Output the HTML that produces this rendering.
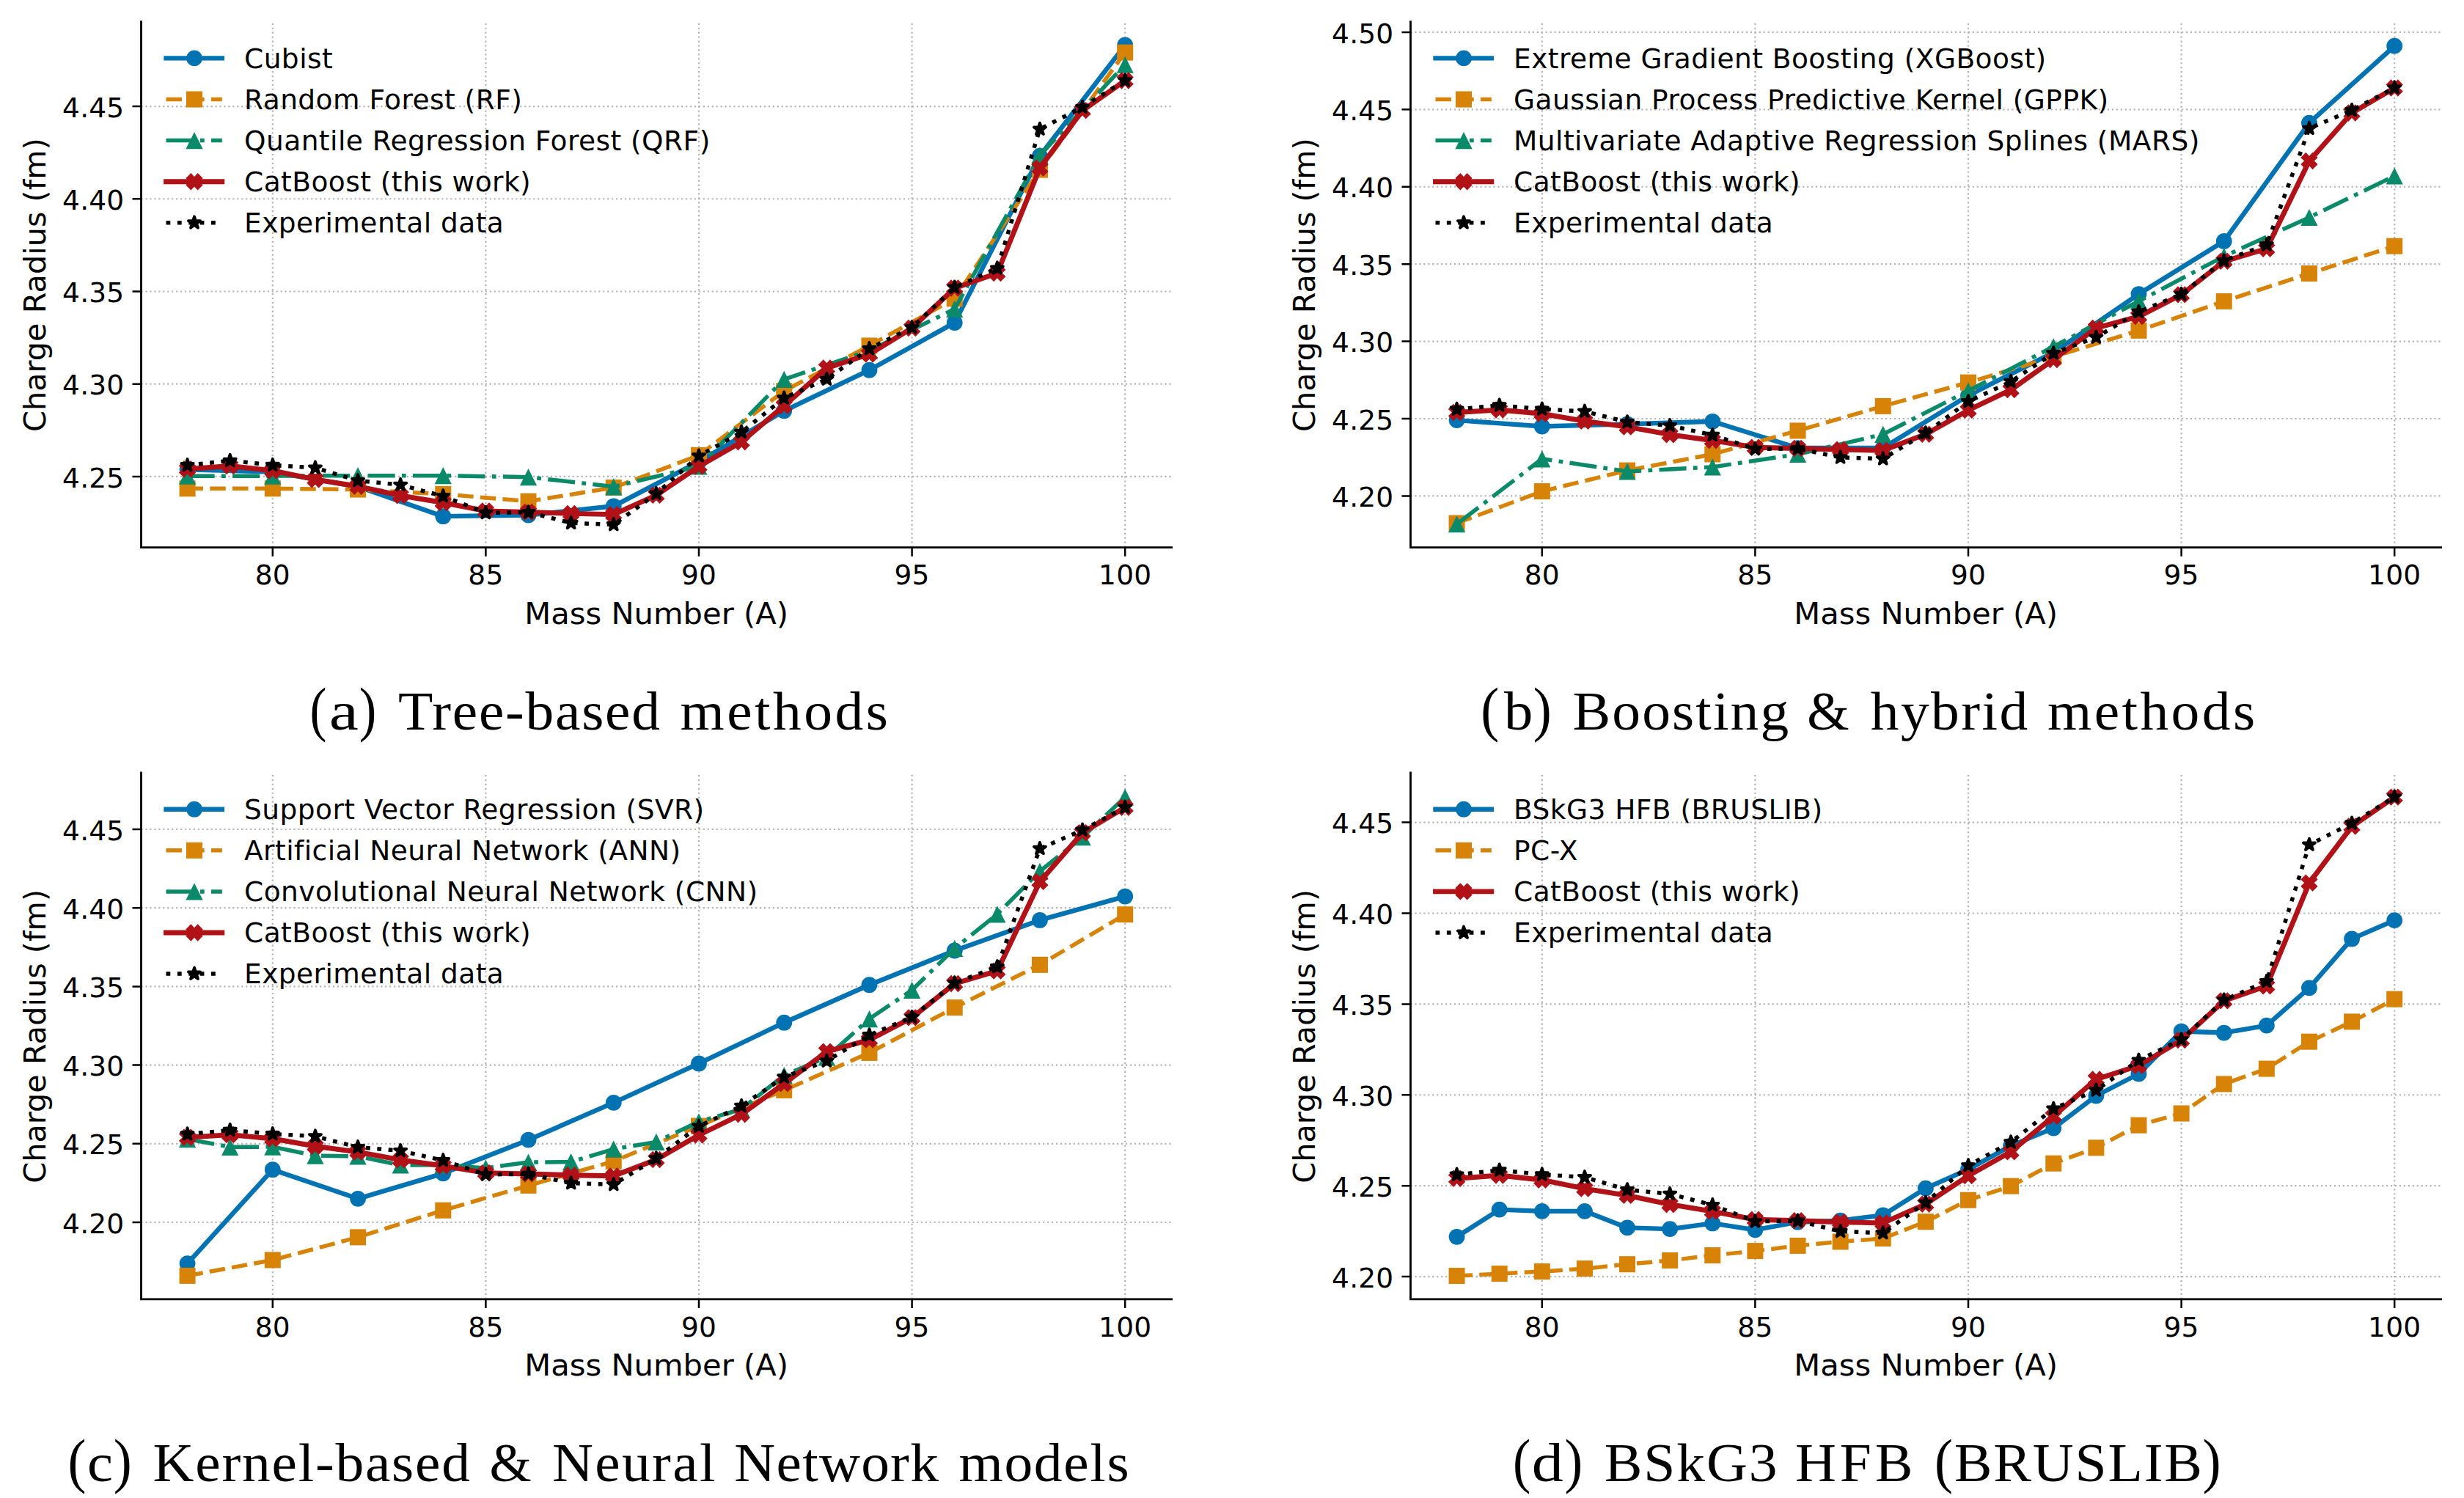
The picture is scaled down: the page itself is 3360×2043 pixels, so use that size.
<!DOCTYPE html>
<html lang="en">
<head>
<meta charset="utf-8">
<title>Charge radius model comparison</title>
<style>
html,body{margin:0;padding:0;background:#fff;}
body{width:3360px;height:2043px;overflow:hidden;}
svg{display:block;}
text{font-family:"DejaVu Sans","Liberation Sans",sans-serif;fill:#000;}
.tk text{font-size:37.5px;letter-spacing:0.2px;}
.lg{font-size:37.5px;letter-spacing:0.46px;}
.al{font-size:41.67px;}
.cap{font-family:"Liberation Serif","DejaVu Serif",serif;}
</style>
</head>
<body>
<svg width="3360" height="2043" viewBox="0 0 3360 2043">
<rect width="3360" height="2043" fill="#fff"/>
<g transform="translate(0 0)">
<g stroke="#b4b4b4" stroke-width="2.2" stroke-dasharray="2.2 3.74" fill="none"><path d="M371.8 746.7V29.6"/><path d="M662.4 746.7V29.6"/><path d="M953 746.7V29.6"/><path d="M1243.6 746.7V29.6"/><path d="M1534.2 746.7V29.6"/><path d="M192.5 649.9H1597.6"/><path d="M192.5 523.69H1597.6"/><path d="M192.5 397.48H1597.6"/><path d="M192.5 271.26H1597.6"/><path d="M192.5 145.05H1597.6"/></g>
<path d="M255.56 640.31L371.8 643.59L488.04 663.78L604.28 704.17L720.52 702.66L836.76 690.29L953 629.71L1069.24 560.29L1185.48 504.76L1301.72 440.13L1417.96 212.7L1534.2 61.5" fill="none" stroke="#0173B2" stroke-width="6.4" stroke-linejoin="round" stroke-linecap="square"/>
<g><circle cx="255.56" cy="640.31" r="10.9" fill="#0173B2"/><circle cx="371.8" cy="643.59" r="10.9" fill="#0173B2"/><circle cx="488.04" cy="663.78" r="10.9" fill="#0173B2"/><circle cx="604.28" cy="704.17" r="10.9" fill="#0173B2"/><circle cx="720.52" cy="702.66" r="10.9" fill="#0173B2"/><circle cx="836.76" cy="690.29" r="10.9" fill="#0173B2"/><circle cx="953" cy="629.71" r="10.9" fill="#0173B2"/><circle cx="1069.24" cy="560.29" r="10.9" fill="#0173B2"/><circle cx="1185.48" cy="504.76" r="10.9" fill="#0173B2"/><circle cx="1301.72" cy="440.13" r="10.9" fill="#0173B2"/><circle cx="1417.96" cy="212.7" r="10.9" fill="#0173B2"/><circle cx="1534.2" cy="61.5" r="10.9" fill="#0173B2"/></g>
<path d="M255.56 666.31L371.8 666.31L488.04 667.57L604.28 673.88L720.52 683.72L836.76 665.05L953 620.87L1069.24 533.28L1185.48 471.44L1301.72 407.32L1417.96 231.63L1534.2 71.59" fill="none" stroke="#D68307" stroke-width="5.5" stroke-linejoin="round" stroke-linecap="butt" stroke-dasharray="21.46 9.28"/>
<g><rect x="244.56" y="655.31" width="22" height="22" fill="#D68307"/><rect x="360.8" y="655.31" width="22" height="22" fill="#D68307"/><rect x="477.04" y="656.57" width="22" height="22" fill="#D68307"/><rect x="593.28" y="662.88" width="22" height="22" fill="#D68307"/><rect x="709.52" y="672.72" width="22" height="22" fill="#D68307"/><rect x="825.76" y="654.05" width="22" height="22" fill="#D68307"/><rect x="942" y="609.87" width="22" height="22" fill="#D68307"/><rect x="1058.24" y="522.28" width="22" height="22" fill="#D68307"/><rect x="1174.48" y="460.44" width="22" height="22" fill="#D68307"/><rect x="1290.72" y="396.32" width="22" height="22" fill="#D68307"/><rect x="1406.96" y="220.63" width="22" height="22" fill="#D68307"/><rect x="1523.2" y="60.59" width="22" height="22" fill="#D68307"/></g>
<path d="M255.56 649.14L371.8 649.14L488.04 648.64L604.28 648.64L720.52 650.66L836.76 663.78L953 636.02L1069.24 517.38L1185.48 478.25L1301.72 421.46L1417.96 211.94L1534.2 88.25" fill="none" stroke="#0B8A69" stroke-width="5.5" stroke-linejoin="round" stroke-linecap="butt" stroke-dasharray="37.12 9.28 5.8 9.28"/>
<g><path d="M255.56 637.54L267.16 660.74L243.96 660.74Z" fill="#0B8A69"/><path d="M371.8 637.54L383.4 660.74L360.2 660.74Z" fill="#0B8A69"/><path d="M488.04 637.04L499.64 660.24L476.44 660.24Z" fill="#0B8A69"/><path d="M604.28 637.04L615.88 660.24L592.68 660.24Z" fill="#0B8A69"/><path d="M720.52 639.06L732.12 662.26L708.92 662.26Z" fill="#0B8A69"/><path d="M836.76 652.18L848.36 675.38L825.16 675.38Z" fill="#0B8A69"/><path d="M953 624.42L964.6 647.62L941.4 647.62Z" fill="#0B8A69"/><path d="M1069.24 505.78L1080.84 528.98L1057.64 528.98Z" fill="#0B8A69"/><path d="M1185.48 466.65L1197.08 489.85L1173.88 489.85Z" fill="#0B8A69"/><path d="M1301.72 409.86L1313.32 433.06L1290.12 433.06Z" fill="#0B8A69"/><path d="M1417.96 200.34L1429.56 223.54L1406.36 223.54Z" fill="#0B8A69"/><path d="M1534.2 76.65L1545.8 99.85L1522.6 99.85Z" fill="#0B8A69"/></g>
<path d="M255.56 639.8L313.68 635.51L371.8 641.82L429.92 653.94L488.04 663.28L546.16 675.9L604.28 685.49L662.4 696.85L720.52 698.37L778.64 700.38L836.76 701.65L894.88 675.39L953 636.02L1011.12 602.7L1069.24 553.47L1127.36 501.98L1185.48 483.05L1243.6 447.46L1301.72 392.93L1359.84 372.48L1417.96 229.11L1476.08 150.6L1534.2 109.96" fill="none" stroke="#B01218" stroke-width="6.9" stroke-linejoin="round" stroke-linecap="square"/>
<g><path d="M250.96 628.1L255.56 633L260.16 628.1L267.26 635.2L262.36 639.8L267.26 644.4L260.16 651.5L255.56 646.6L250.96 651.5L243.86 644.4L248.76 639.8L243.86 635.2Z" fill="#B01218"/><path d="M309.08 623.81L313.68 628.71L318.28 623.81L325.38 630.91L320.48 635.51L325.38 640.11L318.28 647.21L313.68 642.31L309.08 647.21L301.98 640.11L306.88 635.51L301.98 630.91Z" fill="#B01218"/><path d="M367.2 630.12L371.8 635.02L376.4 630.12L383.5 637.22L378.6 641.82L383.5 646.42L376.4 653.52L371.8 648.62L367.2 653.52L360.1 646.42L365 641.82L360.1 637.22Z" fill="#B01218"/><path d="M425.32 642.24L429.92 647.14L434.52 642.24L441.62 649.34L436.72 653.94L441.62 658.54L434.52 665.64L429.92 660.74L425.32 665.64L418.22 658.54L423.12 653.94L418.22 649.34Z" fill="#B01218"/><path d="M483.44 651.58L488.04 656.48L492.64 651.58L499.74 658.68L494.84 663.28L499.74 667.88L492.64 674.98L488.04 670.08L483.44 674.98L476.34 667.88L481.24 663.28L476.34 658.68Z" fill="#B01218"/><path d="M541.56 664.2L546.16 669.1L550.76 664.2L557.86 671.3L552.96 675.9L557.86 680.5L550.76 687.6L546.16 682.7L541.56 687.6L534.46 680.5L539.36 675.9L534.46 671.3Z" fill="#B01218"/><path d="M599.68 673.79L604.28 678.69L608.88 673.79L615.98 680.89L611.08 685.49L615.98 690.09L608.88 697.19L604.28 692.29L599.68 697.19L592.58 690.09L597.48 685.49L592.58 680.89Z" fill="#B01218"/><path d="M657.8 685.15L662.4 690.05L667 685.15L674.1 692.25L669.2 696.85L674.1 701.45L667 708.55L662.4 703.65L657.8 708.55L650.7 701.45L655.6 696.85L650.7 692.25Z" fill="#B01218"/><path d="M715.92 686.67L720.52 691.57L725.12 686.67L732.22 693.77L727.32 698.37L732.22 702.97L725.12 710.07L720.52 705.17L715.92 710.07L708.82 702.97L713.72 698.37L708.82 693.77Z" fill="#B01218"/><path d="M774.04 688.68L778.64 693.58L783.24 688.68L790.34 695.78L785.44 700.38L790.34 704.98L783.24 712.08L778.64 707.18L774.04 712.08L766.94 704.98L771.84 700.38L766.94 695.78Z" fill="#B01218"/><path d="M832.16 689.95L836.76 694.85L841.36 689.95L848.46 697.05L843.56 701.65L848.46 706.25L841.36 713.35L836.76 708.45L832.16 713.35L825.06 706.25L829.96 701.65L825.06 697.05Z" fill="#B01218"/><path d="M890.28 663.69L894.88 668.59L899.48 663.69L906.58 670.79L901.68 675.39L906.58 679.99L899.48 687.09L894.88 682.19L890.28 687.09L883.18 679.99L888.08 675.39L883.18 670.79Z" fill="#B01218"/><path d="M948.4 624.32L953 629.22L957.6 624.32L964.7 631.42L959.8 636.02L964.7 640.62L957.6 647.72L953 642.82L948.4 647.72L941.3 640.62L946.2 636.02L941.3 631.42Z" fill="#B01218"/><path d="M1006.52 591L1011.12 595.9L1015.72 591L1022.82 598.1L1017.92 602.7L1022.82 607.3L1015.72 614.4L1011.12 609.5L1006.52 614.4L999.42 607.3L1004.32 602.7L999.42 598.1Z" fill="#B01218"/><path d="M1064.64 541.77L1069.24 546.67L1073.84 541.77L1080.94 548.87L1076.04 553.47L1080.94 558.07L1073.84 565.17L1069.24 560.27L1064.64 565.17L1057.54 558.07L1062.44 553.47L1057.54 548.87Z" fill="#B01218"/><path d="M1122.76 490.28L1127.36 495.18L1131.96 490.28L1139.06 497.38L1134.16 501.98L1139.06 506.58L1131.96 513.68L1127.36 508.78L1122.76 513.68L1115.66 506.58L1120.56 501.98L1115.66 497.38Z" fill="#B01218"/><path d="M1180.88 471.35L1185.48 476.25L1190.08 471.35L1197.18 478.45L1192.28 483.05L1197.18 487.65L1190.08 494.75L1185.48 489.85L1180.88 494.75L1173.78 487.65L1178.68 483.05L1173.78 478.45Z" fill="#B01218"/><path d="M1239 435.76L1243.6 440.66L1248.2 435.76L1255.3 442.86L1250.4 447.46L1255.3 452.06L1248.2 459.16L1243.6 454.26L1239 459.16L1231.9 452.06L1236.8 447.46L1231.9 442.86Z" fill="#B01218"/><path d="M1297.12 381.23L1301.72 386.13L1306.32 381.23L1313.42 388.33L1308.52 392.93L1313.42 397.53L1306.32 404.63L1301.72 399.73L1297.12 404.63L1290.02 397.53L1294.92 392.93L1290.02 388.33Z" fill="#B01218"/><path d="M1355.24 360.78L1359.84 365.68L1364.44 360.78L1371.54 367.88L1366.64 372.48L1371.54 377.08L1364.44 384.18L1359.84 379.28L1355.24 384.18L1348.14 377.08L1353.04 372.48L1348.14 367.88Z" fill="#B01218"/><path d="M1413.36 217.41L1417.96 222.31L1422.56 217.41L1429.66 224.51L1424.76 229.11L1429.66 233.71L1422.56 240.81L1417.96 235.91L1413.36 240.81L1406.26 233.71L1411.16 229.11L1406.26 224.51Z" fill="#B01218"/><path d="M1471.48 138.9L1476.08 143.8L1480.68 138.9L1487.78 146L1482.88 150.6L1487.78 155.2L1480.68 162.3L1476.08 157.4L1471.48 162.3L1464.38 155.2L1469.28 150.6L1464.38 146Z" fill="#B01218"/><path d="M1529.6 98.26L1534.2 103.16L1538.8 98.26L1545.9 105.36L1541 109.96L1545.9 114.56L1538.8 121.66L1534.2 116.76L1529.6 121.66L1522.5 114.56L1527.4 109.96L1522.5 105.36Z" fill="#B01218"/></g>
<path d="M255.56 634.5L313.68 628.19L371.8 634.25L429.92 638.04L488.04 655.45L546.16 661.26L604.28 676.66L662.4 699.38L720.52 698.62L778.64 713.26L836.76 715.53L894.88 673.38L953 621.88L1011.12 589.32L1069.24 542.87L1127.36 517.12L1185.48 475.47L1243.6 446.7L1301.72 391.92L1359.84 365.92L1417.96 176.1L1476.08 146.31L1534.2 109.71" fill="none" stroke="#000000" stroke-width="5.5" stroke-linejoin="round" stroke-linecap="butt" stroke-dasharray="5.8 9.57"/>
<g><path d="M255.56 626L257.47 631.88L263.64 631.88L258.65 635.51L260.56 641.38L255.56 637.75L250.56 641.38L252.47 635.51L247.48 631.88L253.65 631.88Z" fill="#000000" stroke="#000000" stroke-width="3.8" stroke-linejoin="round"/><path d="M313.68 619.69L315.59 625.56L321.76 625.56L316.77 629.19L318.68 635.07L313.68 631.44L308.68 635.07L310.59 629.19L305.6 625.56L311.77 625.56Z" fill="#000000" stroke="#000000" stroke-width="3.8" stroke-linejoin="round"/><path d="M371.8 625.75L373.71 631.62L379.88 631.62L374.89 635.25L376.8 641.13L371.8 637.5L366.8 641.13L368.71 635.25L363.72 631.62L369.89 631.62Z" fill="#000000" stroke="#000000" stroke-width="3.8" stroke-linejoin="round"/><path d="M429.92 629.54L431.83 635.41L438 635.41L433.01 639.04L434.92 644.91L429.92 641.28L424.92 644.91L426.83 639.04L421.84 635.41L428.01 635.41Z" fill="#000000" stroke="#000000" stroke-width="3.8" stroke-linejoin="round"/><path d="M488.04 646.95L489.95 652.83L496.12 652.83L491.13 656.46L493.04 662.33L488.04 658.7L483.04 662.33L484.95 656.46L479.96 652.83L486.13 652.83Z" fill="#000000" stroke="#000000" stroke-width="3.8" stroke-linejoin="round"/><path d="M546.16 652.76L548.07 658.63L554.24 658.63L549.25 662.26L551.16 668.14L546.16 664.51L541.16 668.14L543.07 662.26L538.08 658.63L544.25 658.63Z" fill="#000000" stroke="#000000" stroke-width="3.8" stroke-linejoin="round"/><path d="M604.28 668.16L606.19 674.03L612.36 674.03L607.37 677.66L609.28 683.53L604.28 679.9L599.28 683.53L601.19 677.66L596.2 674.03L602.37 674.03Z" fill="#000000" stroke="#000000" stroke-width="3.8" stroke-linejoin="round"/><path d="M662.4 690.88L664.31 696.75L670.48 696.75L665.49 700.38L667.4 706.25L662.4 702.62L657.4 706.25L659.31 700.38L654.32 696.75L660.49 696.75Z" fill="#000000" stroke="#000000" stroke-width="3.8" stroke-linejoin="round"/><path d="M720.52 690.12L722.43 695.99L728.6 695.99L723.61 699.62L725.52 705.49L720.52 701.86L715.52 705.49L717.43 699.62L712.44 695.99L718.61 695.99Z" fill="#000000" stroke="#000000" stroke-width="3.8" stroke-linejoin="round"/><path d="M778.64 704.76L780.55 710.63L786.72 710.63L781.73 714.26L783.64 720.14L778.64 716.51L773.64 720.14L775.55 714.26L770.56 710.63L776.73 710.63Z" fill="#000000" stroke="#000000" stroke-width="3.8" stroke-linejoin="round"/><path d="M836.76 707.03L838.67 712.9L844.84 712.9L839.85 716.53L841.76 722.41L836.76 718.78L831.76 722.41L833.67 716.53L828.68 712.9L834.85 712.9Z" fill="#000000" stroke="#000000" stroke-width="3.8" stroke-linejoin="round"/><path d="M894.88 664.88L896.79 670.75L902.96 670.75L897.97 674.38L899.88 680.25L894.88 676.62L889.88 680.25L891.79 674.38L886.8 670.75L892.97 670.75Z" fill="#000000" stroke="#000000" stroke-width="3.8" stroke-linejoin="round"/><path d="M953 613.38L954.91 619.25L961.08 619.25L956.09 622.88L958 628.76L953 625.13L948 628.76L949.91 622.88L944.92 619.25L951.09 619.25Z" fill="#000000" stroke="#000000" stroke-width="3.8" stroke-linejoin="round"/><path d="M1011.12 580.82L1013.03 586.69L1019.2 586.69L1014.21 590.32L1016.12 596.19L1011.12 592.56L1006.12 596.19L1008.03 590.32L1003.04 586.69L1009.21 586.69Z" fill="#000000" stroke="#000000" stroke-width="3.8" stroke-linejoin="round"/><path d="M1069.24 534.37L1071.15 540.25L1077.32 540.25L1072.33 543.88L1074.24 549.75L1069.24 546.12L1064.24 549.75L1066.15 543.88L1061.16 540.25L1067.33 540.25Z" fill="#000000" stroke="#000000" stroke-width="3.8" stroke-linejoin="round"/><path d="M1127.36 508.62L1129.27 514.5L1135.44 514.5L1130.45 518.13L1132.36 524L1127.36 520.37L1122.36 524L1124.27 518.13L1119.28 514.5L1125.45 514.5Z" fill="#000000" stroke="#000000" stroke-width="3.8" stroke-linejoin="round"/><path d="M1185.48 466.97L1187.39 472.85L1193.56 472.85L1188.57 476.48L1190.48 482.35L1185.48 478.72L1180.48 482.35L1182.39 476.48L1177.4 472.85L1183.57 472.85Z" fill="#000000" stroke="#000000" stroke-width="3.8" stroke-linejoin="round"/><path d="M1243.6 438.2L1245.51 444.07L1251.68 444.07L1246.69 447.7L1248.6 453.57L1243.6 449.94L1238.6 453.57L1240.51 447.7L1235.52 444.07L1241.69 444.07Z" fill="#000000" stroke="#000000" stroke-width="3.8" stroke-linejoin="round"/><path d="M1301.72 383.42L1303.63 389.3L1309.8 389.3L1304.81 392.92L1306.72 398.8L1301.72 395.17L1296.72 398.8L1298.63 392.92L1293.64 389.3L1299.81 389.3Z" fill="#000000" stroke="#000000" stroke-width="3.8" stroke-linejoin="round"/><path d="M1359.84 357.42L1361.75 363.3L1367.92 363.3L1362.93 366.93L1364.84 372.8L1359.84 369.17L1354.84 372.8L1356.75 366.93L1351.76 363.3L1357.93 363.3Z" fill="#000000" stroke="#000000" stroke-width="3.8" stroke-linejoin="round"/><path d="M1417.96 167.6L1419.87 173.47L1426.04 173.47L1421.05 177.1L1422.96 182.97L1417.96 179.34L1412.96 182.97L1414.87 177.1L1409.88 173.47L1416.05 173.47Z" fill="#000000" stroke="#000000" stroke-width="3.8" stroke-linejoin="round"/><path d="M1476.08 137.81L1477.99 143.69L1484.16 143.69L1479.17 147.32L1481.08 153.19L1476.08 149.56L1471.08 153.19L1472.99 147.32L1468 143.69L1474.17 143.69Z" fill="#000000" stroke="#000000" stroke-width="3.8" stroke-linejoin="round"/><path d="M1534.2 101.21L1536.11 107.08L1542.28 107.08L1537.29 110.71L1539.2 116.59L1534.2 112.96L1529.2 116.59L1531.11 110.71L1526.12 107.08L1532.29 107.08Z" fill="#000000" stroke="#000000" stroke-width="3.8" stroke-linejoin="round"/></g>
<g stroke="#000" fill="none"><path d="M192.5 28.2V746.7H1599" stroke-width="2.8" stroke-linecap="butt" stroke-linejoin="miter"/><path d="M371.8 746.7v12M662.4 746.7v12M953 746.7v12M1243.6 746.7v12M1534.2 746.7v12M192.5 649.9h-12M192.5 523.69h-12M192.5 397.48h-12M192.5 271.26h-12M192.5 145.05h-12" stroke-width="2.5"/></g>
<g class="tk"><text x="371.8" y="797.3" text-anchor="middle">80</text><text x="662.4" y="797.3" text-anchor="middle">85</text><text x="953" y="797.3" text-anchor="middle">90</text><text x="1243.6" y="797.3" text-anchor="middle">95</text><text x="1534.2" y="797.3" text-anchor="middle">100</text><text x="169.4" y="664.6" text-anchor="end">4.25</text><text x="169.4" y="538.39" text-anchor="end">4.30</text><text x="169.4" y="412.18" text-anchor="end">4.35</text><text x="169.4" y="285.96" text-anchor="end">4.40</text><text x="169.4" y="159.75" text-anchor="end">4.45</text></g>
<text class="al" x="895.2" y="850.5" text-anchor="middle">Mass Number (A)</text>
<text class="al" transform="translate(61.8 388.6) rotate(-90)" text-anchor="middle" style="font-size:41.4px">Charge Radius (fm)</text>
<g><path d="M226.5 79.4L302.8 79.4" fill="none" stroke="#0173B2" stroke-width="6.4" stroke-linecap="square"/><circle cx="265" cy="79.4" r="10.9" fill="#0173B2"/><text x="333" y="92.7" class="lg">Cubist</text><path d="M226.5 135.5L302.8 135.5" fill="none" stroke="#D68307" stroke-width="5.5" stroke-linecap="butt" stroke-dasharray="21.46 9.28"/><rect x="254" y="124.5" width="22" height="22" fill="#D68307"/><text x="333" y="148.8" class="lg">Random Forest (RF)</text><path d="M226.5 191.6L302.8 191.6" fill="none" stroke="#0B8A69" stroke-width="5.5" stroke-linecap="butt" stroke-dasharray="37.12 9.28 5.8 9.28"/><path d="M265 180L276.6 203.2L253.4 203.2Z" fill="#0B8A69"/><text x="333" y="204.9" class="lg">Quantile Regression Forest (QRF)</text><path d="M226.5 247.7L302.8 247.7" fill="none" stroke="#B01218" stroke-width="6.9" stroke-linecap="square"/><path d="M260.4 236L265 240.9L269.6 236L276.7 243.1L271.8 247.7L276.7 252.3L269.6 259.4L265 254.5L260.4 259.4L253.3 252.3L258.2 247.7L253.3 243.1Z" fill="#B01218"/><text x="333" y="261" class="lg">CatBoost (this work)</text><path d="M226.5 303.8L302.8 303.8" fill="none" stroke="#000000" stroke-width="5.5" stroke-linecap="butt" stroke-dasharray="5.8 9.57"/><path d="M265 295.3L266.91 301.17L273.08 301.17L268.09 304.8L270 310.68L265 307.05L260 310.68L261.91 304.8L256.92 301.17L263.09 301.17Z" fill="#000000" stroke="#000000" stroke-width="3.8" stroke-linejoin="round"/><text x="333" y="317.1" class="lg">Experimental data</text></g>
</g>
<text class="cap" transform="translate(0 994.5) scale(1.0400 1)"><tspan x="406.17" font-size="83.4" textLength="22.01" lengthAdjust="spacingAndGlyphs">(</tspan><tspan x="431.51" font-size="74.5" textLength="38.48" lengthAdjust="spacingAndGlyphs">a</tspan><tspan x="470.84" font-size="83.4" textLength="22.63" lengthAdjust="spacingAndGlyphs">)</tspan> <tspan x="522.12" font-size="74.5" letter-spacing="1.662">Tree-based</tspan> <tspan x="891.87" font-size="74.5" letter-spacing="3.321">methods</tspan></text>
<g transform="translate(1731 0)">
<g stroke="#b4b4b4" stroke-width="2.2" stroke-dasharray="2.2 3.74" fill="none"><path d="M371.8 746.7V29.6"/><path d="M662.4 746.7V29.6"/><path d="M953 746.7V29.6"/><path d="M1243.6 746.7V29.6"/><path d="M1534.2 746.7V29.6"/><path d="M192.5 676.4H1597.6"/><path d="M192.5 570.98H1597.6"/><path d="M192.5 465.57H1597.6"/><path d="M192.5 360.15H1597.6"/><path d="M192.5 254.73H1597.6"/><path d="M192.5 149.32H1597.6"/><path d="M192.5 43.9H1597.6"/></g>
<path d="M255.56 573.09L371.8 581.53L488.04 578.36L604.28 574.78L720.52 611.04L836.76 611.04L953 539.36L1069.24 480.75L1185.48 401.05L1301.72 328.95L1417.96 167.66L1534.2 62.66" fill="none" stroke="#0173B2" stroke-width="6.4" stroke-linejoin="round" stroke-linecap="square"/>
<g><circle cx="255.56" cy="573.09" r="10.9" fill="#0173B2"/><circle cx="371.8" cy="581.53" r="10.9" fill="#0173B2"/><circle cx="488.04" cy="578.36" r="10.9" fill="#0173B2"/><circle cx="604.28" cy="574.78" r="10.9" fill="#0173B2"/><circle cx="720.52" cy="611.04" r="10.9" fill="#0173B2"/><circle cx="836.76" cy="611.04" r="10.9" fill="#0173B2"/><circle cx="953" cy="539.36" r="10.9" fill="#0173B2"/><circle cx="1069.24" cy="480.75" r="10.9" fill="#0173B2"/><circle cx="1185.48" cy="401.05" r="10.9" fill="#0173B2"/><circle cx="1301.72" cy="328.95" r="10.9" fill="#0173B2"/><circle cx="1417.96" cy="167.66" r="10.9" fill="#0173B2"/><circle cx="1534.2" cy="62.66" r="10.9" fill="#0173B2"/></g>
<path d="M255.56 713.51L371.8 670.07L488.04 641.61L604.28 619.47L720.52 587.43L836.76 553.91L953 521.65L1069.24 486.65L1185.48 450.81L1301.72 410.96L1417.96 373.01L1534.2 335.69" fill="none" stroke="#D68307" stroke-width="5.5" stroke-linejoin="round" stroke-linecap="butt" stroke-dasharray="21.46 9.28"/>
<g><rect x="244.56" y="702.51" width="22" height="22" fill="#D68307"/><rect x="360.8" y="659.07" width="22" height="22" fill="#D68307"/><rect x="477.04" y="630.61" width="22" height="22" fill="#D68307"/><rect x="593.28" y="608.47" width="22" height="22" fill="#D68307"/><rect x="709.52" y="576.43" width="22" height="22" fill="#D68307"/><rect x="825.76" y="542.91" width="22" height="22" fill="#D68307"/><rect x="942" y="510.65" width="22" height="22" fill="#D68307"/><rect x="1058.24" y="475.65" width="22" height="22" fill="#D68307"/><rect x="1174.48" y="439.81" width="22" height="22" fill="#D68307"/><rect x="1290.72" y="399.96" width="22" height="22" fill="#D68307"/><rect x="1406.96" y="362.01" width="22" height="22" fill="#D68307"/><rect x="1523.2" y="324.69" width="22" height="22" fill="#D68307"/></g>
<path d="M255.56 714.77L371.8 625.8L488.04 642.88L604.28 636.97L720.52 619.47L836.76 592.28L953 533.03L1069.24 472.74L1185.48 410.75L1301.72 349.61L1417.96 296.48L1534.2 239.98" fill="none" stroke="#0B8A69" stroke-width="5.5" stroke-linejoin="round" stroke-linecap="butt" stroke-dasharray="37.12 9.28 5.8 9.28"/>
<g><path d="M255.56 703.17L267.16 726.37L243.96 726.37Z" fill="#0B8A69"/><path d="M371.8 614.2L383.4 637.4L360.2 637.4Z" fill="#0B8A69"/><path d="M488.04 631.28L499.64 654.48L476.44 654.48Z" fill="#0B8A69"/><path d="M604.28 625.37L615.88 648.57L592.68 648.57Z" fill="#0B8A69"/><path d="M720.52 607.87L732.12 631.07L708.92 631.07Z" fill="#0B8A69"/><path d="M836.76 580.68L848.36 603.88L825.16 603.88Z" fill="#0B8A69"/><path d="M953 521.43L964.6 544.63L941.4 544.63Z" fill="#0B8A69"/><path d="M1069.24 461.14L1080.84 484.34L1057.64 484.34Z" fill="#0B8A69"/><path d="M1185.48 399.15L1197.08 422.35L1173.88 422.35Z" fill="#0B8A69"/><path d="M1301.72 338.01L1313.32 361.21L1290.12 361.21Z" fill="#0B8A69"/><path d="M1417.96 284.88L1429.56 308.08L1406.36 308.08Z" fill="#0B8A69"/><path d="M1534.2 228.38L1545.8 251.58L1522.6 251.58Z" fill="#0B8A69"/></g>
<path d="M255.56 562.55L313.68 558.97L371.8 564.24L429.92 574.36L488.04 582.16L546.16 592.7L604.28 600.71L662.4 610.2L720.52 611.46L778.64 613.15L836.76 614.2L894.88 592.28L953 559.39L1011.12 531.56L1069.24 490.45L1127.36 447.43L1185.48 431.62L1243.6 401.9L1301.72 356.36L1359.84 339.28L1417.96 219.52L1476.08 153.96L1534.2 120.01" fill="none" stroke="#B01218" stroke-width="6.9" stroke-linejoin="round" stroke-linecap="square"/>
<g><path d="M250.96 550.85L255.56 555.75L260.16 550.85L267.26 557.95L262.36 562.55L267.26 567.15L260.16 574.25L255.56 569.35L250.96 574.25L243.86 567.15L248.76 562.55L243.86 557.95Z" fill="#B01218"/><path d="M309.08 547.27L313.68 552.17L318.28 547.27L325.38 554.37L320.48 558.97L325.38 563.57L318.28 570.67L313.68 565.77L309.08 570.67L301.98 563.57L306.88 558.97L301.98 554.37Z" fill="#B01218"/><path d="M367.2 552.54L371.8 557.44L376.4 552.54L383.5 559.64L378.6 564.24L383.5 568.84L376.4 575.94L371.8 571.04L367.2 575.94L360.1 568.84L365 564.24L360.1 559.64Z" fill="#B01218"/><path d="M425.32 562.66L429.92 567.56L434.52 562.66L441.62 569.76L436.72 574.36L441.62 578.96L434.52 586.06L429.92 581.16L425.32 586.06L418.22 578.96L423.12 574.36L418.22 569.76Z" fill="#B01218"/><path d="M483.44 570.46L488.04 575.36L492.64 570.46L499.74 577.56L494.84 582.16L499.74 586.76L492.64 593.86L488.04 588.96L483.44 593.86L476.34 586.76L481.24 582.16L476.34 577.56Z" fill="#B01218"/><path d="M541.56 581L546.16 585.9L550.76 581L557.86 588.1L552.96 592.7L557.86 597.3L550.76 604.4L546.16 599.5L541.56 604.4L534.46 597.3L539.36 592.7L534.46 588.1Z" fill="#B01218"/><path d="M599.68 589.01L604.28 593.91L608.88 589.01L615.98 596.11L611.08 600.71L615.98 605.31L608.88 612.41L604.28 607.51L599.68 612.41L592.58 605.31L597.48 600.71L592.58 596.11Z" fill="#B01218"/><path d="M657.8 598.5L662.4 603.4L667 598.5L674.1 605.6L669.2 610.2L674.1 614.8L667 621.9L662.4 617L657.8 621.9L650.7 614.8L655.6 610.2L650.7 605.6Z" fill="#B01218"/><path d="M715.92 599.76L720.52 604.66L725.12 599.76L732.22 606.86L727.32 611.46L732.22 616.06L725.12 623.16L720.52 618.26L715.92 623.16L708.82 616.06L713.72 611.46L708.82 606.86Z" fill="#B01218"/><path d="M774.04 601.45L778.64 606.35L783.24 601.45L790.34 608.55L785.44 613.15L790.34 617.75L783.24 624.85L778.64 619.95L774.04 624.85L766.94 617.75L771.84 613.15L766.94 608.55Z" fill="#B01218"/><path d="M832.16 602.5L836.76 607.4L841.36 602.5L848.46 609.6L843.56 614.2L848.46 618.8L841.36 625.9L836.76 621L832.16 625.9L825.06 618.8L829.96 614.2L825.06 609.6Z" fill="#B01218"/><path d="M890.28 580.58L894.88 585.48L899.48 580.58L906.58 587.68L901.68 592.28L906.58 596.88L899.48 603.98L894.88 599.08L890.28 603.98L883.18 596.88L888.08 592.28L883.18 587.68Z" fill="#B01218"/><path d="M948.4 547.69L953 552.59L957.6 547.69L964.7 554.79L959.8 559.39L964.7 563.99L957.6 571.09L953 566.19L948.4 571.09L941.3 563.99L946.2 559.39L941.3 554.79Z" fill="#B01218"/><path d="M1006.52 519.86L1011.12 524.76L1015.72 519.86L1022.82 526.96L1017.92 531.56L1022.82 536.16L1015.72 543.26L1011.12 538.36L1006.52 543.26L999.42 536.16L1004.32 531.56L999.42 526.96Z" fill="#B01218"/><path d="M1064.64 478.75L1069.24 483.65L1073.84 478.75L1080.94 485.85L1076.04 490.45L1080.94 495.05L1073.84 502.15L1069.24 497.25L1064.64 502.15L1057.54 495.05L1062.44 490.45L1057.54 485.85Z" fill="#B01218"/><path d="M1122.76 435.73L1127.36 440.63L1131.96 435.73L1139.06 442.83L1134.16 447.43L1139.06 452.03L1131.96 459.13L1127.36 454.23L1122.76 459.13L1115.66 452.03L1120.56 447.43L1115.66 442.83Z" fill="#B01218"/><path d="M1180.88 419.92L1185.48 424.82L1190.08 419.92L1197.18 427.02L1192.28 431.62L1197.18 436.22L1190.08 443.32L1185.48 438.42L1180.88 443.32L1173.78 436.22L1178.68 431.62L1173.78 427.02Z" fill="#B01218"/><path d="M1239 390.2L1243.6 395.1L1248.2 390.2L1255.3 397.3L1250.4 401.9L1255.3 406.5L1248.2 413.6L1243.6 408.7L1239 413.6L1231.9 406.5L1236.8 401.9L1231.9 397.3Z" fill="#B01218"/><path d="M1297.12 344.66L1301.72 349.56L1306.32 344.66L1313.42 351.76L1308.52 356.36L1313.42 360.96L1306.32 368.06L1301.72 363.16L1297.12 368.06L1290.02 360.96L1294.92 356.36L1290.02 351.76Z" fill="#B01218"/><path d="M1355.24 327.58L1359.84 332.48L1364.44 327.58L1371.54 334.68L1366.64 339.28L1371.54 343.88L1364.44 350.98L1359.84 346.08L1355.24 350.98L1348.14 343.88L1353.04 339.28L1348.14 334.68Z" fill="#B01218"/><path d="M1413.36 207.82L1417.96 212.72L1422.56 207.82L1429.66 214.92L1424.76 219.52L1429.66 224.12L1422.56 231.22L1417.96 226.32L1413.36 231.22L1406.26 224.12L1411.16 219.52L1406.26 214.92Z" fill="#B01218"/><path d="M1471.48 142.26L1476.08 147.16L1480.68 142.26L1487.78 149.36L1482.88 153.96L1487.78 158.56L1480.68 165.66L1476.08 160.76L1471.48 165.66L1464.38 158.56L1469.28 153.96L1464.38 149.36Z" fill="#B01218"/><path d="M1529.6 108.31L1534.2 113.21L1538.8 108.31L1545.9 115.41L1541 120.01L1545.9 124.61L1538.8 131.71L1534.2 126.81L1529.6 131.71L1522.5 124.61L1527.4 120.01L1522.5 115.41Z" fill="#B01218"/></g>
<path d="M255.56 558.12L313.68 552.85L371.8 557.91L429.92 561.07L488.04 575.62L546.16 580.47L604.28 593.33L662.4 612.31L720.52 611.67L778.64 623.9L836.76 625.8L894.88 590.59L953 547.58L1011.12 520.38L1069.24 481.59L1127.36 460.09L1185.48 425.3L1243.6 401.26L1301.72 355.51L1359.84 333.8L1417.96 175.25L1476.08 150.37L1534.2 119.8" fill="none" stroke="#000000" stroke-width="5.5" stroke-linejoin="round" stroke-linecap="butt" stroke-dasharray="5.8 9.57"/>
<g><path d="M255.56 549.62L257.47 555.5L263.64 555.5L258.65 559.13L260.56 565L255.56 561.37L250.56 565L252.47 559.13L247.48 555.5L253.65 555.5Z" fill="#000000" stroke="#000000" stroke-width="3.8" stroke-linejoin="round"/><path d="M313.68 544.35L315.59 550.23L321.76 550.23L316.77 553.85L318.68 559.73L313.68 556.1L308.68 559.73L310.59 553.85L305.6 550.23L311.77 550.23Z" fill="#000000" stroke="#000000" stroke-width="3.8" stroke-linejoin="round"/><path d="M371.8 549.41L373.71 555.29L379.88 555.29L374.89 558.91L376.8 564.79L371.8 561.16L366.8 564.79L368.71 558.91L363.72 555.29L369.89 555.29Z" fill="#000000" stroke="#000000" stroke-width="3.8" stroke-linejoin="round"/><path d="M429.92 552.57L431.83 558.45L438 558.45L433.01 562.08L434.92 567.95L429.92 564.32L424.92 567.95L426.83 562.08L421.84 558.45L428.01 558.45Z" fill="#000000" stroke="#000000" stroke-width="3.8" stroke-linejoin="round"/><path d="M488.04 567.12L489.95 573L496.12 573L491.13 576.62L493.04 582.5L488.04 578.87L483.04 582.5L484.95 576.62L479.96 573L486.13 573Z" fill="#000000" stroke="#000000" stroke-width="3.8" stroke-linejoin="round"/><path d="M546.16 571.97L548.07 577.84L554.24 577.84L549.25 581.47L551.16 587.35L546.16 583.72L541.16 587.35L543.07 581.47L538.08 577.84L544.25 577.84Z" fill="#000000" stroke="#000000" stroke-width="3.8" stroke-linejoin="round"/><path d="M604.28 584.83L606.19 590.71L612.36 590.71L607.37 594.33L609.28 600.21L604.28 596.58L599.28 600.21L601.19 594.33L596.2 590.71L602.37 590.71Z" fill="#000000" stroke="#000000" stroke-width="3.8" stroke-linejoin="round"/><path d="M662.4 603.81L664.31 609.68L670.48 609.68L665.49 613.31L667.4 619.18L662.4 615.55L657.4 619.18L659.31 613.31L654.32 609.68L660.49 609.68Z" fill="#000000" stroke="#000000" stroke-width="3.8" stroke-linejoin="round"/><path d="M720.52 603.17L722.43 609.05L728.6 609.05L723.61 612.68L725.52 618.55L720.52 614.92L715.52 618.55L717.43 612.68L712.44 609.05L718.61 609.05Z" fill="#000000" stroke="#000000" stroke-width="3.8" stroke-linejoin="round"/><path d="M778.64 615.4L780.55 621.28L786.72 621.28L781.73 624.91L783.64 630.78L778.64 627.15L773.64 630.78L775.55 624.91L770.56 621.28L776.73 621.28Z" fill="#000000" stroke="#000000" stroke-width="3.8" stroke-linejoin="round"/><path d="M836.76 617.3L838.67 623.17L844.84 623.17L839.85 626.8L841.76 632.68L836.76 629.05L831.76 632.68L833.67 626.8L828.68 623.17L834.85 623.17Z" fill="#000000" stroke="#000000" stroke-width="3.8" stroke-linejoin="round"/><path d="M894.88 582.09L896.79 587.96L902.96 587.96L897.97 591.59L899.88 597.47L894.88 593.84L889.88 597.47L891.79 591.59L886.8 587.96L892.97 587.96Z" fill="#000000" stroke="#000000" stroke-width="3.8" stroke-linejoin="round"/><path d="M953 539.08L954.91 544.95L961.08 544.95L956.09 548.58L958 554.46L953 550.83L948 554.46L949.91 548.58L944.92 544.95L951.09 544.95Z" fill="#000000" stroke="#000000" stroke-width="3.8" stroke-linejoin="round"/><path d="M1011.12 511.88L1013.03 517.76L1019.2 517.76L1014.21 521.39L1016.12 527.26L1011.12 523.63L1006.12 527.26L1008.03 521.39L1003.04 517.76L1009.21 517.76Z" fill="#000000" stroke="#000000" stroke-width="3.8" stroke-linejoin="round"/><path d="M1069.24 473.09L1071.15 478.96L1077.32 478.96L1072.33 482.59L1074.24 488.47L1069.24 484.84L1064.24 488.47L1066.15 482.59L1061.16 478.96L1067.33 478.96Z" fill="#000000" stroke="#000000" stroke-width="3.8" stroke-linejoin="round"/><path d="M1127.36 451.59L1129.27 457.46L1135.44 457.46L1130.45 461.09L1132.36 466.96L1127.36 463.33L1122.36 466.96L1124.27 461.09L1119.28 457.46L1125.45 457.46Z" fill="#000000" stroke="#000000" stroke-width="3.8" stroke-linejoin="round"/><path d="M1185.48 416.8L1187.39 422.67L1193.56 422.67L1188.57 426.3L1190.48 432.17L1185.48 428.54L1180.48 432.17L1182.39 426.3L1177.4 422.67L1183.57 422.67Z" fill="#000000" stroke="#000000" stroke-width="3.8" stroke-linejoin="round"/><path d="M1243.6 392.76L1245.51 398.64L1251.68 398.64L1246.69 402.27L1248.6 408.14L1243.6 404.51L1238.6 408.14L1240.51 402.27L1235.52 398.64L1241.69 398.64Z" fill="#000000" stroke="#000000" stroke-width="3.8" stroke-linejoin="round"/><path d="M1301.72 347.01L1303.63 352.89L1309.8 352.89L1304.81 356.51L1306.72 362.39L1301.72 358.76L1296.72 362.39L1298.63 356.51L1293.64 352.89L1299.81 352.89Z" fill="#000000" stroke="#000000" stroke-width="3.8" stroke-linejoin="round"/><path d="M1359.84 325.3L1361.75 331.17L1367.92 331.17L1362.93 334.8L1364.84 340.67L1359.84 337.04L1354.84 340.67L1356.75 334.8L1351.76 331.17L1357.93 331.17Z" fill="#000000" stroke="#000000" stroke-width="3.8" stroke-linejoin="round"/><path d="M1417.96 166.75L1419.87 172.62L1426.04 172.62L1421.05 176.25L1422.96 182.13L1417.96 178.5L1412.96 182.13L1414.87 176.25L1409.88 172.62L1416.05 172.62Z" fill="#000000" stroke="#000000" stroke-width="3.8" stroke-linejoin="round"/><path d="M1476.08 141.87L1477.99 147.74L1484.16 147.74L1479.17 151.37L1481.08 157.25L1476.08 153.62L1471.08 157.25L1472.99 151.37L1468 147.74L1474.17 147.74Z" fill="#000000" stroke="#000000" stroke-width="3.8" stroke-linejoin="round"/><path d="M1534.2 111.3L1536.11 117.17L1542.28 117.17L1537.29 120.8L1539.2 126.68L1534.2 123.05L1529.2 126.68L1531.11 120.8L1526.12 117.17L1532.29 117.17Z" fill="#000000" stroke="#000000" stroke-width="3.8" stroke-linejoin="round"/></g>
<g stroke="#000" fill="none"><path d="M192.5 28.2V746.7H1599" stroke-width="2.8" stroke-linecap="butt" stroke-linejoin="miter"/><path d="M371.8 746.7v12M662.4 746.7v12M953 746.7v12M1243.6 746.7v12M1534.2 746.7v12M192.5 676.4h-12M192.5 570.98h-12M192.5 465.57h-12M192.5 360.15h-12M192.5 254.73h-12M192.5 149.32h-12M192.5 43.9h-12" stroke-width="2.5"/></g>
<g class="tk"><text x="371.8" y="797.3" text-anchor="middle">80</text><text x="662.4" y="797.3" text-anchor="middle">85</text><text x="953" y="797.3" text-anchor="middle">90</text><text x="1243.6" y="797.3" text-anchor="middle">95</text><text x="1534.2" y="797.3" text-anchor="middle">100</text><text x="169.4" y="691.1" text-anchor="end">4.20</text><text x="169.4" y="585.68" text-anchor="end">4.25</text><text x="169.4" y="480.27" text-anchor="end">4.30</text><text x="169.4" y="374.85" text-anchor="end">4.35</text><text x="169.4" y="269.43" text-anchor="end">4.40</text><text x="169.4" y="164.02" text-anchor="end">4.45</text><text x="169.4" y="58.6" text-anchor="end">4.50</text></g>
<text class="al" x="895.2" y="850.5" text-anchor="middle">Mass Number (A)</text>
<text class="al" transform="translate(61.8 388.6) rotate(-90)" text-anchor="middle" style="font-size:41.4px">Charge Radius (fm)</text>
<g><path d="M226.5 79.4L302.8 79.4" fill="none" stroke="#0173B2" stroke-width="6.4" stroke-linecap="square"/><circle cx="265" cy="79.4" r="10.9" fill="#0173B2"/><text x="333" y="92.7" class="lg">Extreme Gradient Boosting (XGBoost)</text><path d="M226.5 135.5L302.8 135.5" fill="none" stroke="#D68307" stroke-width="5.5" stroke-linecap="butt" stroke-dasharray="21.46 9.28"/><rect x="254" y="124.5" width="22" height="22" fill="#D68307"/><text x="333" y="148.8" class="lg">Gaussian Process Predictive Kernel (GPPK)</text><path d="M226.5 191.6L302.8 191.6" fill="none" stroke="#0B8A69" stroke-width="5.5" stroke-linecap="butt" stroke-dasharray="37.12 9.28 5.8 9.28"/><path d="M265 180L276.6 203.2L253.4 203.2Z" fill="#0B8A69"/><text x="333" y="204.9" class="lg">Multivariate Adaptive Regression Splines (MARS)</text><path d="M226.5 247.7L302.8 247.7" fill="none" stroke="#B01218" stroke-width="6.9" stroke-linecap="square"/><path d="M260.4 236L265 240.9L269.6 236L276.7 243.1L271.8 247.7L276.7 252.3L269.6 259.4L265 254.5L260.4 259.4L253.3 252.3L258.2 247.7L253.3 243.1Z" fill="#B01218"/><text x="333" y="261" class="lg">CatBoost (this work)</text><path d="M226.5 303.8L302.8 303.8" fill="none" stroke="#000000" stroke-width="5.5" stroke-linecap="butt" stroke-dasharray="5.8 9.57"/><path d="M265 295.3L266.91 301.17L273.08 301.17L268.09 304.8L270 310.68L265 307.05L260 310.68L261.91 304.8L256.92 301.17L263.09 301.17Z" fill="#000000" stroke="#000000" stroke-width="3.8" stroke-linejoin="round"/><text x="333" y="317.1" class="lg">Experimental data</text></g>
</g>
<text class="cap" transform="translate(0 994.5) scale(1.0400 1)"><tspan x="1941.67" font-size="83.4" textLength="24" lengthAdjust="spacingAndGlyphs">(</tspan><tspan x="1972.21" font-size="74.5" textLength="37.79" lengthAdjust="spacingAndGlyphs">b</tspan><tspan x="2010.32" font-size="83.4" textLength="24" lengthAdjust="spacingAndGlyphs">)</tspan> <tspan x="2062.04" font-size="74.5" letter-spacing="2.030">Boosting</tspan> <tspan x="2369.5" font-size="74.5" textLength="55.2" lengthAdjust="spacingAndGlyphs">&amp;</tspan> <tspan x="2452.71" font-size="74.5" letter-spacing="2.315">hybrid</tspan> <tspan x="2684.65" font-size="74.5" letter-spacing="3.288">methods</tspan></text>
<g transform="translate(0 1024.3)">
<g stroke="#b4b4b4" stroke-width="2.2" stroke-dasharray="2.2 3.74" fill="none"><path d="M371.8 747.6V29.6"/><path d="M662.4 747.6V29.6"/><path d="M953 747.6V29.6"/><path d="M1243.6 747.6V29.6"/><path d="M1534.2 747.6V29.6"/><path d="M192.5 642.7H1597.6"/><path d="M192.5 535.5H1597.6"/><path d="M192.5 428.3H1597.6"/><path d="M192.5 321.1H1597.6"/><path d="M192.5 213.9H1597.6"/><path d="M192.5 106.7H1597.6"/></g>
<path d="M255.56 698.87L371.8 570.88L488.04 610.54L604.28 576.02L720.52 530.35L836.76 479.54L953 426.16L1069.24 370.41L1185.48 318.96L1301.72 272.22L1417.96 230.62L1534.2 198.25" fill="none" stroke="#0173B2" stroke-width="6.4" stroke-linejoin="round" stroke-linecap="square"/>
<g><circle cx="255.56" cy="698.87" r="10.9" fill="#0173B2"/><circle cx="371.8" cy="570.88" r="10.9" fill="#0173B2"/><circle cx="488.04" cy="610.54" r="10.9" fill="#0173B2"/><circle cx="604.28" cy="576.02" r="10.9" fill="#0173B2"/><circle cx="720.52" cy="530.35" r="10.9" fill="#0173B2"/><circle cx="836.76" cy="479.54" r="10.9" fill="#0173B2"/><circle cx="953" cy="426.16" r="10.9" fill="#0173B2"/><circle cx="1069.24" cy="370.41" r="10.9" fill="#0173B2"/><circle cx="1185.48" cy="318.96" r="10.9" fill="#0173B2"/><circle cx="1301.72" cy="272.22" r="10.9" fill="#0173B2"/><circle cx="1417.96" cy="230.62" r="10.9" fill="#0173B2"/><circle cx="1534.2" cy="198.25" r="10.9" fill="#0173B2"/></g>
<path d="M255.56 715.6L371.8 694.16L488.04 663.07L604.28 626.41L720.52 592.53L836.76 559.51L953 511.27L1069.24 462.6L1185.48 411.58L1301.72 349.83L1417.96 291.51L1534.2 222.9" fill="none" stroke="#D68307" stroke-width="5.5" stroke-linejoin="round" stroke-linecap="butt" stroke-dasharray="21.46 9.28"/>
<g><rect x="244.56" y="704.6" width="22" height="22" fill="#D68307"/><rect x="360.8" y="683.16" width="22" height="22" fill="#D68307"/><rect x="477.04" y="652.07" width="22" height="22" fill="#D68307"/><rect x="593.28" y="615.41" width="22" height="22" fill="#D68307"/><rect x="709.52" y="581.53" width="22" height="22" fill="#D68307"/><rect x="825.76" y="548.51" width="22" height="22" fill="#D68307"/><rect x="942" y="500.27" width="22" height="22" fill="#D68307"/><rect x="1058.24" y="451.6" width="22" height="22" fill="#D68307"/><rect x="1174.48" y="400.58" width="22" height="22" fill="#D68307"/><rect x="1290.72" y="338.83" width="22" height="22" fill="#D68307"/><rect x="1406.96" y="280.51" width="22" height="22" fill="#D68307"/><rect x="1523.2" y="211.9" width="22" height="22" fill="#D68307"/></g>
<path d="M255.56 529.28L313.68 540L371.8 539.79L429.92 551.79L488.04 552.65L546.16 564.66L604.28 564.44L662.4 568.73L720.52 560.8L778.64 560.37L836.76 542.79L894.88 533.14L953 505.48L1011.12 488.33L1069.24 442.24L1127.36 417.58L1185.48 365.27L1243.6 326.03L1301.72 269.22L1359.84 222.48L1417.96 163.94L1476.08 117.42L1534.2 62.96" fill="none" stroke="#0B8A69" stroke-width="5.5" stroke-linejoin="round" stroke-linecap="butt" stroke-dasharray="37.12 9.28 5.8 9.28"/>
<g><path d="M255.56 517.68L267.16 540.88L243.96 540.88Z" fill="#0B8A69"/><path d="M313.68 528.4L325.28 551.6L302.08 551.6Z" fill="#0B8A69"/><path d="M371.8 528.19L383.4 551.39L360.2 551.39Z" fill="#0B8A69"/><path d="M429.92 540.19L441.52 563.39L418.32 563.39Z" fill="#0B8A69"/><path d="M488.04 541.05L499.64 564.25L476.44 564.25Z" fill="#0B8A69"/><path d="M546.16 553.06L557.76 576.26L534.56 576.26Z" fill="#0B8A69"/><path d="M604.28 552.84L615.88 576.04L592.68 576.04Z" fill="#0B8A69"/><path d="M662.4 557.13L674 580.33L650.8 580.33Z" fill="#0B8A69"/><path d="M720.52 549.2L732.12 572.4L708.92 572.4Z" fill="#0B8A69"/><path d="M778.64 548.77L790.24 571.97L767.04 571.97Z" fill="#0B8A69"/><path d="M836.76 531.19L848.36 554.39L825.16 554.39Z" fill="#0B8A69"/><path d="M894.88 521.54L906.48 544.74L883.28 544.74Z" fill="#0B8A69"/><path d="M953 493.88L964.6 517.08L941.4 517.08Z" fill="#0B8A69"/><path d="M1011.12 476.73L1022.72 499.93L999.52 499.93Z" fill="#0B8A69"/><path d="M1069.24 430.64L1080.84 453.84L1057.64 453.84Z" fill="#0B8A69"/><path d="M1127.36 405.98L1138.96 429.18L1115.76 429.18Z" fill="#0B8A69"/><path d="M1185.48 353.67L1197.08 376.87L1173.88 376.87Z" fill="#0B8A69"/><path d="M1243.6 314.43L1255.2 337.63L1232 337.63Z" fill="#0B8A69"/><path d="M1301.72 257.62L1313.32 280.82L1290.12 280.82Z" fill="#0B8A69"/><path d="M1359.84 210.88L1371.44 234.08L1348.24 234.08Z" fill="#0B8A69"/><path d="M1417.96 152.34L1429.56 175.54L1406.36 175.54Z" fill="#0B8A69"/><path d="M1476.08 105.82L1487.68 129.02L1464.48 129.02Z" fill="#0B8A69"/><path d="M1534.2 51.36L1545.8 74.56L1522.6 74.56Z" fill="#0B8A69"/></g>
<path d="M255.56 526.92L313.68 523.28L371.8 528.64L429.92 538.93L488.04 546.86L546.16 557.58L604.28 565.73L662.4 575.38L720.52 576.66L778.64 578.38L836.76 579.45L894.88 557.15L953 523.71L1011.12 495.41L1069.24 453.6L1127.36 409.86L1185.48 393.78L1243.6 363.55L1301.72 317.24L1359.84 299.87L1417.96 178.1L1476.08 111.42L1534.2 76.9" fill="none" stroke="#B01218" stroke-width="6.9" stroke-linejoin="round" stroke-linecap="square"/>
<g><path d="M250.96 515.22L255.56 520.12L260.16 515.22L267.26 522.32L262.36 526.92L267.26 531.52L260.16 538.62L255.56 533.72L250.96 538.62L243.86 531.52L248.76 526.92L243.86 522.32Z" fill="#B01218"/><path d="M309.08 511.58L313.68 516.48L318.28 511.58L325.38 518.68L320.48 523.28L325.38 527.88L318.28 534.98L313.68 530.08L309.08 534.98L301.98 527.88L306.88 523.28L301.98 518.68Z" fill="#B01218"/><path d="M367.2 516.94L371.8 521.84L376.4 516.94L383.5 524.04L378.6 528.64L383.5 533.24L376.4 540.34L371.8 535.44L367.2 540.34L360.1 533.24L365 528.64L360.1 524.04Z" fill="#B01218"/><path d="M425.32 527.23L429.92 532.13L434.52 527.23L441.62 534.33L436.72 538.93L441.62 543.53L434.52 550.63L429.92 545.73L425.32 550.63L418.22 543.53L423.12 538.93L418.22 534.33Z" fill="#B01218"/><path d="M483.44 535.16L488.04 540.06L492.64 535.16L499.74 542.26L494.84 546.86L499.74 551.46L492.64 558.56L488.04 553.66L483.44 558.56L476.34 551.46L481.24 546.86L476.34 542.26Z" fill="#B01218"/><path d="M541.56 545.88L546.16 550.78L550.76 545.88L557.86 552.98L552.96 557.58L557.86 562.18L550.76 569.28L546.16 564.38L541.56 569.28L534.46 562.18L539.36 557.58L534.46 552.98Z" fill="#B01218"/><path d="M599.68 554.03L604.28 558.93L608.88 554.03L615.98 561.13L611.08 565.73L615.98 570.33L608.88 577.43L604.28 572.53L599.68 577.43L592.58 570.33L597.48 565.73L592.58 561.13Z" fill="#B01218"/><path d="M657.8 563.68L662.4 568.58L667 563.68L674.1 570.78L669.2 575.38L674.1 579.98L667 587.08L662.4 582.18L657.8 587.08L650.7 579.98L655.6 575.38L650.7 570.78Z" fill="#B01218"/><path d="M715.92 564.96L720.52 569.86L725.12 564.96L732.22 572.06L727.32 576.66L732.22 581.26L725.12 588.36L720.52 583.46L715.92 588.36L708.82 581.26L713.72 576.66L708.82 572.06Z" fill="#B01218"/><path d="M774.04 566.68L778.64 571.58L783.24 566.68L790.34 573.78L785.44 578.38L790.34 582.98L783.24 590.08L778.64 585.18L774.04 590.08L766.94 582.98L771.84 578.38L766.94 573.78Z" fill="#B01218"/><path d="M832.16 567.75L836.76 572.65L841.36 567.75L848.46 574.85L843.56 579.45L848.46 584.05L841.36 591.15L836.76 586.25L832.16 591.15L825.06 584.05L829.96 579.45L825.06 574.85Z" fill="#B01218"/><path d="M890.28 545.45L894.88 550.35L899.48 545.45L906.58 552.55L901.68 557.15L906.58 561.75L899.48 568.85L894.88 563.95L890.28 568.85L883.18 561.75L888.08 557.15L883.18 552.55Z" fill="#B01218"/><path d="M948.4 512.01L953 516.91L957.6 512.01L964.7 519.11L959.8 523.71L964.7 528.31L957.6 535.41L953 530.51L948.4 535.41L941.3 528.31L946.2 523.71L941.3 519.11Z" fill="#B01218"/><path d="M1006.52 483.71L1011.12 488.61L1015.72 483.71L1022.82 490.81L1017.92 495.41L1022.82 500.01L1015.72 507.11L1011.12 502.21L1006.52 507.11L999.42 500.01L1004.32 495.41L999.42 490.81Z" fill="#B01218"/><path d="M1064.64 441.9L1069.24 446.8L1073.84 441.9L1080.94 449L1076.04 453.6L1080.94 458.2L1073.84 465.3L1069.24 460.4L1064.64 465.3L1057.54 458.2L1062.44 453.6L1057.54 449Z" fill="#B01218"/><path d="M1122.76 398.16L1127.36 403.06L1131.96 398.16L1139.06 405.26L1134.16 409.86L1139.06 414.46L1131.96 421.56L1127.36 416.66L1122.76 421.56L1115.66 414.46L1120.56 409.86L1115.66 405.26Z" fill="#B01218"/><path d="M1180.88 382.08L1185.48 386.98L1190.08 382.08L1197.18 389.18L1192.28 393.78L1197.18 398.38L1190.08 405.48L1185.48 400.58L1180.88 405.48L1173.78 398.38L1178.68 393.78L1173.78 389.18Z" fill="#B01218"/><path d="M1239 351.85L1243.6 356.75L1248.2 351.85L1255.3 358.95L1250.4 363.55L1255.3 368.15L1248.2 375.25L1243.6 370.35L1239 375.25L1231.9 368.15L1236.8 363.55L1231.9 358.95Z" fill="#B01218"/><path d="M1297.12 305.54L1301.72 310.44L1306.32 305.54L1313.42 312.64L1308.52 317.24L1313.42 321.84L1306.32 328.94L1301.72 324.04L1297.12 328.94L1290.02 321.84L1294.92 317.24L1290.02 312.64Z" fill="#B01218"/><path d="M1355.24 288.17L1359.84 293.07L1364.44 288.17L1371.54 295.27L1366.64 299.87L1371.54 304.47L1364.44 311.57L1359.84 306.67L1355.24 311.57L1348.14 304.47L1353.04 299.87L1348.14 295.27Z" fill="#B01218"/><path d="M1413.36 166.4L1417.96 171.3L1422.56 166.4L1429.66 173.5L1424.76 178.1L1429.66 182.7L1422.56 189.8L1417.96 184.9L1413.36 189.8L1406.26 182.7L1411.16 178.1L1406.26 173.5Z" fill="#B01218"/><path d="M1471.48 99.72L1476.08 104.62L1480.68 99.72L1487.78 106.82L1482.88 111.42L1487.78 116.02L1480.68 123.12L1476.08 118.22L1471.48 123.12L1464.38 116.02L1469.28 111.42L1464.38 106.82Z" fill="#B01218"/><path d="M1529.6 65.2L1534.2 70.1L1538.8 65.2L1545.9 72.3L1541 76.9L1545.9 81.5L1538.8 88.6L1534.2 83.7L1529.6 88.6L1522.5 81.5L1527.4 76.9L1522.5 72.3Z" fill="#B01218"/></g>
<path d="M255.56 522.42L313.68 517.06L371.8 522.21L429.92 525.42L488.04 540.22L546.16 545.15L604.28 558.23L662.4 577.52L720.52 576.88L778.64 589.31L836.76 591.24L894.88 555.44L953 511.7L1011.12 484.04L1069.24 444.59L1127.36 422.73L1185.48 387.35L1243.6 362.91L1301.72 316.38L1359.84 294.3L1417.96 133.07L1476.08 107.77L1534.2 76.68" fill="none" stroke="#000000" stroke-width="5.5" stroke-linejoin="round" stroke-linecap="butt" stroke-dasharray="5.8 9.57"/>
<g><path d="M255.56 513.92L257.47 519.79L263.64 519.79L258.65 523.42L260.56 529.3L255.56 525.67L250.56 529.3L252.47 523.42L247.48 519.79L253.65 519.79Z" fill="#000000" stroke="#000000" stroke-width="3.8" stroke-linejoin="round"/><path d="M313.68 508.56L315.59 514.43L321.76 514.43L316.77 518.06L318.68 523.94L313.68 520.31L308.68 523.94L310.59 518.06L305.6 514.43L311.77 514.43Z" fill="#000000" stroke="#000000" stroke-width="3.8" stroke-linejoin="round"/><path d="M371.8 513.71L373.71 519.58L379.88 519.58L374.89 523.21L376.8 529.08L371.8 525.45L366.8 529.08L368.71 523.21L363.72 519.58L369.89 519.58Z" fill="#000000" stroke="#000000" stroke-width="3.8" stroke-linejoin="round"/><path d="M429.92 516.92L431.83 522.8L438 522.8L433.01 526.43L434.92 532.3L429.92 528.67L424.92 532.3L426.83 526.43L421.84 522.8L428.01 522.8Z" fill="#000000" stroke="#000000" stroke-width="3.8" stroke-linejoin="round"/><path d="M488.04 531.72L489.95 537.59L496.12 537.59L491.13 541.22L493.04 547.09L488.04 543.46L483.04 547.09L484.95 541.22L479.96 537.59L486.13 537.59Z" fill="#000000" stroke="#000000" stroke-width="3.8" stroke-linejoin="round"/><path d="M546.16 536.65L548.07 542.52L554.24 542.52L549.25 546.15L551.16 552.02L546.16 548.39L541.16 552.02L543.07 546.15L538.08 542.52L544.25 542.52Z" fill="#000000" stroke="#000000" stroke-width="3.8" stroke-linejoin="round"/><path d="M604.28 549.73L606.19 555.6L612.36 555.6L607.37 559.23L609.28 565.1L604.28 561.47L599.28 565.1L601.19 559.23L596.2 555.6L602.37 555.6Z" fill="#000000" stroke="#000000" stroke-width="3.8" stroke-linejoin="round"/><path d="M662.4 569.02L664.31 574.9L670.48 574.9L665.49 578.53L667.4 584.4L662.4 580.77L657.4 584.4L659.31 578.53L654.32 574.9L660.49 574.9Z" fill="#000000" stroke="#000000" stroke-width="3.8" stroke-linejoin="round"/><path d="M720.52 568.38L722.43 574.25L728.6 574.25L723.61 577.88L725.52 583.76L720.52 580.13L715.52 583.76L717.43 577.88L712.44 574.25L718.61 574.25Z" fill="#000000" stroke="#000000" stroke-width="3.8" stroke-linejoin="round"/><path d="M778.64 580.81L780.55 586.69L786.72 586.69L781.73 590.32L783.64 596.19L778.64 592.56L773.64 596.19L775.55 590.32L770.56 586.69L776.73 586.69Z" fill="#000000" stroke="#000000" stroke-width="3.8" stroke-linejoin="round"/><path d="M836.76 582.74L838.67 588.62L844.84 588.62L839.85 592.25L841.76 598.12L836.76 594.49L831.76 598.12L833.67 592.25L828.68 588.62L834.85 588.62Z" fill="#000000" stroke="#000000" stroke-width="3.8" stroke-linejoin="round"/><path d="M894.88 546.94L896.79 552.81L902.96 552.81L897.97 556.44L899.88 562.32L894.88 558.69L889.88 562.32L891.79 556.44L886.8 552.81L892.97 552.81Z" fill="#000000" stroke="#000000" stroke-width="3.8" stroke-linejoin="round"/><path d="M953 503.2L954.91 509.07L961.08 509.07L956.09 512.7L958 518.58L953 514.95L948 518.58L949.91 512.7L944.92 509.07L951.09 509.07Z" fill="#000000" stroke="#000000" stroke-width="3.8" stroke-linejoin="round"/><path d="M1011.12 475.54L1013.03 481.42L1019.2 481.42L1014.21 485.05L1016.12 490.92L1011.12 487.29L1006.12 490.92L1008.03 485.05L1003.04 481.42L1009.21 481.42Z" fill="#000000" stroke="#000000" stroke-width="3.8" stroke-linejoin="round"/><path d="M1069.24 436.09L1071.15 441.97L1077.32 441.97L1072.33 445.6L1074.24 451.47L1069.24 447.84L1064.24 451.47L1066.15 445.6L1061.16 441.97L1067.33 441.97Z" fill="#000000" stroke="#000000" stroke-width="3.8" stroke-linejoin="round"/><path d="M1127.36 414.23L1129.27 420.1L1135.44 420.1L1130.45 423.73L1132.36 429.6L1127.36 425.97L1122.36 429.6L1124.27 423.73L1119.28 420.1L1125.45 420.1Z" fill="#000000" stroke="#000000" stroke-width="3.8" stroke-linejoin="round"/><path d="M1185.48 378.85L1187.39 384.72L1193.56 384.72L1188.57 388.35L1190.48 394.23L1185.48 390.6L1180.48 394.23L1182.39 388.35L1177.4 384.72L1183.57 384.72Z" fill="#000000" stroke="#000000" stroke-width="3.8" stroke-linejoin="round"/><path d="M1243.6 354.41L1245.51 360.28L1251.68 360.28L1246.69 363.91L1248.6 369.78L1243.6 366.15L1238.6 369.78L1240.51 363.91L1235.52 360.28L1241.69 360.28Z" fill="#000000" stroke="#000000" stroke-width="3.8" stroke-linejoin="round"/><path d="M1301.72 307.88L1303.63 313.76L1309.8 313.76L1304.81 317.39L1306.72 323.26L1301.72 319.63L1296.72 323.26L1298.63 317.39L1293.64 313.76L1299.81 313.76Z" fill="#000000" stroke="#000000" stroke-width="3.8" stroke-linejoin="round"/><path d="M1359.84 285.8L1361.75 291.67L1367.92 291.67L1362.93 295.3L1364.84 301.18L1359.84 297.55L1354.84 301.18L1356.75 295.3L1351.76 291.67L1357.93 291.67Z" fill="#000000" stroke="#000000" stroke-width="3.8" stroke-linejoin="round"/><path d="M1417.96 124.57L1419.87 130.44L1426.04 130.44L1421.05 134.07L1422.96 139.95L1417.96 136.32L1412.96 139.95L1414.87 134.07L1409.88 130.44L1416.05 130.44Z" fill="#000000" stroke="#000000" stroke-width="3.8" stroke-linejoin="round"/><path d="M1476.08 99.27L1477.99 105.15L1484.16 105.15L1479.17 108.78L1481.08 114.65L1476.08 111.02L1471.08 114.65L1472.99 108.78L1468 105.15L1474.17 105.15Z" fill="#000000" stroke="#000000" stroke-width="3.8" stroke-linejoin="round"/><path d="M1534.2 68.18L1536.11 74.06L1542.28 74.06L1537.29 77.69L1539.2 83.56L1534.2 79.93L1529.2 83.56L1531.11 77.69L1526.12 74.06L1532.29 74.06Z" fill="#000000" stroke="#000000" stroke-width="3.8" stroke-linejoin="round"/></g>
<g stroke="#000" fill="none"><path d="M192.5 28.2V747.6H1599" stroke-width="2.8" stroke-linecap="butt" stroke-linejoin="miter"/><path d="M371.8 747.6v12M662.4 747.6v12M953 747.6v12M1243.6 747.6v12M1534.2 747.6v12M192.5 642.7h-12M192.5 535.5h-12M192.5 428.3h-12M192.5 321.1h-12M192.5 213.9h-12M192.5 106.7h-12" stroke-width="2.5"/></g>
<g class="tk"><text x="371.8" y="798.83" text-anchor="middle">80</text><text x="662.4" y="798.83" text-anchor="middle">85</text><text x="953" y="798.83" text-anchor="middle">90</text><text x="1243.6" y="798.83" text-anchor="middle">95</text><text x="1534.2" y="798.83" text-anchor="middle">100</text><text x="169.4" y="657.4" text-anchor="end">4.20</text><text x="169.4" y="550.2" text-anchor="end">4.25</text><text x="169.4" y="443" text-anchor="end">4.30</text><text x="169.4" y="335.8" text-anchor="end">4.35</text><text x="169.4" y="228.6" text-anchor="end">4.40</text><text x="169.4" y="121.4" text-anchor="end">4.45</text></g>
<text class="al" x="895.2" y="852.03" text-anchor="middle">Mass Number (A)</text>
<text class="al" transform="translate(61.8 389.05) rotate(-90)" text-anchor="middle" style="font-size:41.4px">Charge Radius (fm)</text>
<g><path d="M226.5 79.4L302.8 79.4" fill="none" stroke="#0173B2" stroke-width="6.4" stroke-linecap="square"/><circle cx="265" cy="79.4" r="10.9" fill="#0173B2"/><text x="333" y="92.7" class="lg">Support Vector Regression (SVR)</text><path d="M226.5 135.5L302.8 135.5" fill="none" stroke="#D68307" stroke-width="5.5" stroke-linecap="butt" stroke-dasharray="21.46 9.28"/><rect x="254" y="124.5" width="22" height="22" fill="#D68307"/><text x="333" y="148.8" class="lg">Artificial Neural Network (ANN)</text><path d="M226.5 191.6L302.8 191.6" fill="none" stroke="#0B8A69" stroke-width="5.5" stroke-linecap="butt" stroke-dasharray="37.12 9.28 5.8 9.28"/><path d="M265 180L276.6 203.2L253.4 203.2Z" fill="#0B8A69"/><text x="333" y="204.9" class="lg">Convolutional Neural Network (CNN)</text><path d="M226.5 247.7L302.8 247.7" fill="none" stroke="#B01218" stroke-width="6.9" stroke-linecap="square"/><path d="M260.4 236L265 240.9L269.6 236L276.7 243.1L271.8 247.7L276.7 252.3L269.6 259.4L265 254.5L260.4 259.4L253.3 252.3L258.2 247.7L253.3 243.1Z" fill="#B01218"/><text x="333" y="261" class="lg">CatBoost (this work)</text><path d="M226.5 303.8L302.8 303.8" fill="none" stroke="#000000" stroke-width="5.5" stroke-linecap="butt" stroke-dasharray="5.8 9.57"/><path d="M265 295.3L266.91 301.17L273.08 301.17L268.09 304.8L270 310.68L265 307.05L260 310.68L261.91 304.8L256.92 301.17L263.09 301.17Z" fill="#000000" stroke="#000000" stroke-width="3.8" stroke-linejoin="round"/><text x="333" y="317.1" class="lg">Experimental data</text></g>
</g>
<text class="cap" transform="translate(0 2019.7) scale(1.0400 1)"><tspan x="88.97" font-size="83.4" textLength="24" lengthAdjust="spacingAndGlyphs">(</tspan><tspan x="114.51" font-size="74.5" textLength="33.61" lengthAdjust="spacingAndGlyphs">c</tspan><tspan x="148.88" font-size="83.4" textLength="24" lengthAdjust="spacingAndGlyphs">)</tspan> <tspan x="200.6" font-size="74.5" letter-spacing="1.685">Kernel-based</tspan> <tspan x="641.81" font-size="74.5" textLength="55.1" lengthAdjust="spacingAndGlyphs">&amp;</tspan> <tspan x="723.96" font-size="74.5" letter-spacing="2.285">Neural</tspan> <tspan x="962.81" font-size="74.5" letter-spacing="1.202">Network</tspan> <tspan x="1257.25" font-size="74.5" letter-spacing="1.588">models</tspan></text>
<g transform="translate(1731 1024.3)">
<g stroke="#b4b4b4" stroke-width="2.2" stroke-dasharray="2.2 3.74" fill="none"><path d="M371.8 747.6V29.6"/><path d="M662.4 747.6V29.6"/><path d="M953 747.6V29.6"/><path d="M1243.6 747.6V29.6"/><path d="M1534.2 747.6V29.6"/><path d="M192.5 716.75H1597.6"/><path d="M192.5 592.86H1597.6"/><path d="M192.5 468.97H1597.6"/><path d="M192.5 345.08H1597.6"/><path d="M192.5 221.19H1597.6"/><path d="M192.5 97.3H1597.6"/></g>
<path d="M255.56 662.49L313.68 625.32L371.8 627.55L429.92 627.55L488.04 650.1L546.16 651.83L604.28 644.15L662.4 653.07L720.52 642.42L778.64 640.43L836.76 633L894.88 596.33L953 570.56L1011.12 538.35L1069.24 514.31L1127.36 470.21L1185.48 440.23L1243.6 382.25L1301.72 384.23L1359.84 374.32L1417.96 323.03L1476.08 256.13L1534.2 230.85" fill="none" stroke="#0173B2" stroke-width="6.4" stroke-linejoin="round" stroke-linecap="square"/>
<g><circle cx="255.56" cy="662.49" r="10.9" fill="#0173B2"/><circle cx="313.68" cy="625.32" r="10.9" fill="#0173B2"/><circle cx="371.8" cy="627.55" r="10.9" fill="#0173B2"/><circle cx="429.92" cy="627.55" r="10.9" fill="#0173B2"/><circle cx="488.04" cy="650.1" r="10.9" fill="#0173B2"/><circle cx="546.16" cy="651.83" r="10.9" fill="#0173B2"/><circle cx="604.28" cy="644.15" r="10.9" fill="#0173B2"/><circle cx="662.4" cy="653.07" r="10.9" fill="#0173B2"/><circle cx="720.52" cy="642.42" r="10.9" fill="#0173B2"/><circle cx="778.64" cy="640.43" r="10.9" fill="#0173B2"/><circle cx="836.76" cy="633" r="10.9" fill="#0173B2"/><circle cx="894.88" cy="596.33" r="10.9" fill="#0173B2"/><circle cx="953" cy="570.56" r="10.9" fill="#0173B2"/><circle cx="1011.12" cy="538.35" r="10.9" fill="#0173B2"/><circle cx="1069.24" cy="514.31" r="10.9" fill="#0173B2"/><circle cx="1127.36" cy="470.21" r="10.9" fill="#0173B2"/><circle cx="1185.48" cy="440.23" r="10.9" fill="#0173B2"/><circle cx="1243.6" cy="382.25" r="10.9" fill="#0173B2"/><circle cx="1301.72" cy="384.23" r="10.9" fill="#0173B2"/><circle cx="1359.84" cy="374.32" r="10.9" fill="#0173B2"/><circle cx="1417.96" cy="323.03" r="10.9" fill="#0173B2"/><circle cx="1476.08" cy="256.13" r="10.9" fill="#0173B2"/><circle cx="1534.2" cy="230.85" r="10.9" fill="#0173B2"/></g>
<path d="M255.56 715.76L313.68 712.79L371.8 709.81L429.92 705.85L488.04 699.9L546.16 694.7L604.28 687.76L662.4 681.81L720.52 674.63L778.64 669.18L836.76 664.72L894.88 641.92L953 612.43L1011.12 593.36L1069.24 562.38L1127.36 541.07L1185.48 510.35L1243.6 494.24L1301.72 454.1L1359.84 433.29L1417.96 396.37L1476.08 369.11L1534.2 338.39" fill="none" stroke="#D68307" stroke-width="5.5" stroke-linejoin="round" stroke-linecap="butt" stroke-dasharray="21.46 9.28"/>
<g><rect x="244.56" y="704.76" width="22" height="22" fill="#D68307"/><rect x="302.68" y="701.79" width="22" height="22" fill="#D68307"/><rect x="360.8" y="698.81" width="22" height="22" fill="#D68307"/><rect x="418.92" y="694.85" width="22" height="22" fill="#D68307"/><rect x="477.04" y="688.9" width="22" height="22" fill="#D68307"/><rect x="535.16" y="683.7" width="22" height="22" fill="#D68307"/><rect x="593.28" y="676.76" width="22" height="22" fill="#D68307"/><rect x="651.4" y="670.81" width="22" height="22" fill="#D68307"/><rect x="709.52" y="663.63" width="22" height="22" fill="#D68307"/><rect x="767.64" y="658.18" width="22" height="22" fill="#D68307"/><rect x="825.76" y="653.72" width="22" height="22" fill="#D68307"/><rect x="883.88" y="630.92" width="22" height="22" fill="#D68307"/><rect x="942" y="601.43" width="22" height="22" fill="#D68307"/><rect x="1000.12" y="582.36" width="22" height="22" fill="#D68307"/><rect x="1058.24" y="551.38" width="22" height="22" fill="#D68307"/><rect x="1116.36" y="530.07" width="22" height="22" fill="#D68307"/><rect x="1174.48" y="499.35" width="22" height="22" fill="#D68307"/><rect x="1232.6" y="483.24" width="22" height="22" fill="#D68307"/><rect x="1290.72" y="443.1" width="22" height="22" fill="#D68307"/><rect x="1348.84" y="422.29" width="22" height="22" fill="#D68307"/><rect x="1406.96" y="385.37" width="22" height="22" fill="#D68307"/><rect x="1465.08" y="358.11" width="22" height="22" fill="#D68307"/><rect x="1523.2" y="327.39" width="22" height="22" fill="#D68307"/></g>
<path d="M255.56 582.95L313.68 578.74L371.8 584.93L429.92 596.82L488.04 605.99L546.16 618.38L604.28 627.8L662.4 638.95L720.52 640.43L778.64 642.42L836.76 643.65L894.88 617.89L953 579.23L1011.12 546.53L1069.24 498.21L1127.36 447.66L1185.48 429.08L1243.6 394.14L1301.72 340.62L1359.84 320.55L1417.96 179.81L1476.08 102.75L1534.2 62.86" fill="none" stroke="#B01218" stroke-width="6.9" stroke-linejoin="round" stroke-linecap="square"/>
<g><path d="M250.96 571.25L255.56 576.15L260.16 571.25L267.26 578.35L262.36 582.95L267.26 587.55L260.16 594.65L255.56 589.75L250.96 594.65L243.86 587.55L248.76 582.95L243.86 578.35Z" fill="#B01218"/><path d="M309.08 567.04L313.68 571.94L318.28 567.04L325.38 574.14L320.48 578.74L325.38 583.34L318.28 590.44L313.68 585.54L309.08 590.44L301.98 583.34L306.88 578.74L301.98 574.14Z" fill="#B01218"/><path d="M367.2 573.23L371.8 578.13L376.4 573.23L383.5 580.33L378.6 584.93L383.5 589.53L376.4 596.63L371.8 591.73L367.2 596.63L360.1 589.53L365 584.93L360.1 580.33Z" fill="#B01218"/><path d="M425.32 585.12L429.92 590.02L434.52 585.12L441.62 592.22L436.72 596.82L441.62 601.42L434.52 608.52L429.92 603.62L425.32 608.52L418.22 601.42L423.12 596.82L418.22 592.22Z" fill="#B01218"/><path d="M483.44 594.29L488.04 599.19L492.64 594.29L499.74 601.39L494.84 605.99L499.74 610.59L492.64 617.69L488.04 612.79L483.44 617.69L476.34 610.59L481.24 605.99L476.34 601.39Z" fill="#B01218"/><path d="M541.56 606.68L546.16 611.58L550.76 606.68L557.86 613.78L552.96 618.38L557.86 622.98L550.76 630.08L546.16 625.18L541.56 630.08L534.46 622.98L539.36 618.38L534.46 613.78Z" fill="#B01218"/><path d="M599.68 616.1L604.28 621L608.88 616.1L615.98 623.2L611.08 627.8L615.98 632.4L608.88 639.5L604.28 634.6L599.68 639.5L592.58 632.4L597.48 627.8L592.58 623.2Z" fill="#B01218"/><path d="M657.8 627.25L662.4 632.15L667 627.25L674.1 634.35L669.2 638.95L674.1 643.55L667 650.65L662.4 645.75L657.8 650.65L650.7 643.55L655.6 638.95L650.7 634.35Z" fill="#B01218"/><path d="M715.92 628.73L720.52 633.63L725.12 628.73L732.22 635.83L727.32 640.43L732.22 645.03L725.12 652.13L720.52 647.23L715.92 652.13L708.82 645.03L713.72 640.43L708.82 635.83Z" fill="#B01218"/><path d="M774.04 630.72L778.64 635.62L783.24 630.72L790.34 637.82L785.44 642.42L790.34 647.02L783.24 654.12L778.64 649.22L774.04 654.12L766.94 647.02L771.84 642.42L766.94 637.82Z" fill="#B01218"/><path d="M832.16 631.95L836.76 636.85L841.36 631.95L848.46 639.05L843.56 643.65L848.46 648.25L841.36 655.35L836.76 650.45L832.16 655.35L825.06 648.25L829.96 643.65L825.06 639.05Z" fill="#B01218"/><path d="M890.28 606.19L894.88 611.09L899.48 606.19L906.58 613.29L901.68 617.89L906.58 622.49L899.48 629.59L894.88 624.69L890.28 629.59L883.18 622.49L888.08 617.89L883.18 613.29Z" fill="#B01218"/><path d="M948.4 567.53L953 572.43L957.6 567.53L964.7 574.63L959.8 579.23L964.7 583.83L957.6 590.93L953 586.03L948.4 590.93L941.3 583.83L946.2 579.23L941.3 574.63Z" fill="#B01218"/><path d="M1006.52 534.83L1011.12 539.73L1015.72 534.83L1022.82 541.93L1017.92 546.53L1022.82 551.13L1015.72 558.23L1011.12 553.33L1006.52 558.23L999.42 551.13L1004.32 546.53L999.42 541.93Z" fill="#B01218"/><path d="M1064.64 486.51L1069.24 491.41L1073.84 486.51L1080.94 493.61L1076.04 498.21L1080.94 502.81L1073.84 509.91L1069.24 505.01L1064.64 509.91L1057.54 502.81L1062.44 498.21L1057.54 493.61Z" fill="#B01218"/><path d="M1122.76 435.96L1127.36 440.86L1131.96 435.96L1139.06 443.06L1134.16 447.66L1139.06 452.26L1131.96 459.36L1127.36 454.46L1122.76 459.36L1115.66 452.26L1120.56 447.66L1115.66 443.06Z" fill="#B01218"/><path d="M1180.88 417.38L1185.48 422.28L1190.08 417.38L1197.18 424.48L1192.28 429.08L1197.18 433.68L1190.08 440.78L1185.48 435.88L1180.88 440.78L1173.78 433.68L1178.68 429.08L1173.78 424.48Z" fill="#B01218"/><path d="M1239 382.44L1243.6 387.34L1248.2 382.44L1255.3 389.54L1250.4 394.14L1255.3 398.74L1248.2 405.84L1243.6 400.94L1239 405.84L1231.9 398.74L1236.8 394.14L1231.9 389.54Z" fill="#B01218"/><path d="M1297.12 328.92L1301.72 333.82L1306.32 328.92L1313.42 336.02L1308.52 340.62L1313.42 345.22L1306.32 352.32L1301.72 347.42L1297.12 352.32L1290.02 345.22L1294.92 340.62L1290.02 336.02Z" fill="#B01218"/><path d="M1355.24 308.85L1359.84 313.75L1364.44 308.85L1371.54 315.95L1366.64 320.55L1371.54 325.15L1364.44 332.25L1359.84 327.35L1355.24 332.25L1348.14 325.15L1353.04 320.55L1348.14 315.95Z" fill="#B01218"/><path d="M1413.36 168.11L1417.96 173.01L1422.56 168.11L1429.66 175.21L1424.76 179.81L1429.66 184.41L1422.56 191.51L1417.96 186.61L1413.36 191.51L1406.26 184.41L1411.16 179.81L1406.26 175.21Z" fill="#B01218"/><path d="M1471.48 91.05L1476.08 95.95L1480.68 91.05L1487.78 98.15L1482.88 102.75L1487.78 107.35L1480.68 114.45L1476.08 109.55L1471.48 114.45L1464.38 107.35L1469.28 102.75L1464.38 98.15Z" fill="#B01218"/><path d="M1529.6 51.16L1534.2 56.06L1538.8 51.16L1545.9 58.26L1541 62.86L1545.9 67.46L1538.8 74.56L1534.2 69.66L1529.6 74.56L1522.5 67.46L1527.4 62.86L1522.5 58.26Z" fill="#B01218"/></g>
<path d="M255.56 577.75L313.68 571.55L371.8 577.5L429.92 581.21L488.04 598.31L546.16 604.01L604.28 619.12L662.4 641.42L720.52 640.68L778.64 655.05L836.76 657.28L894.88 615.9L953 565.36L1011.12 533.39L1069.24 487.8L1127.36 462.53L1185.48 421.64L1243.6 393.4L1301.72 339.63L1359.84 314.11L1417.96 127.78L1476.08 98.54L1534.2 62.61" fill="none" stroke="#000000" stroke-width="5.5" stroke-linejoin="round" stroke-linecap="butt" stroke-dasharray="5.8 9.57"/>
<g><path d="M255.56 569.25L257.47 575.12L263.64 575.12L258.65 578.75L260.56 584.62L255.56 580.99L250.56 584.62L252.47 578.75L247.48 575.12L253.65 575.12Z" fill="#000000" stroke="#000000" stroke-width="3.8" stroke-linejoin="round"/><path d="M313.68 563.05L315.59 568.92L321.76 568.92L316.77 572.55L318.68 578.43L313.68 574.8L308.68 578.43L310.59 572.55L305.6 568.92L311.77 568.92Z" fill="#000000" stroke="#000000" stroke-width="3.8" stroke-linejoin="round"/><path d="M371.8 569L373.71 574.87L379.88 574.87L374.89 578.5L376.8 584.37L371.8 580.74L366.8 584.37L368.71 578.5L363.72 574.87L369.89 574.87Z" fill="#000000" stroke="#000000" stroke-width="3.8" stroke-linejoin="round"/><path d="M429.92 572.71L431.83 578.59L438 578.59L433.01 582.22L434.92 588.09L429.92 584.46L424.92 588.09L426.83 582.22L421.84 578.59L428.01 578.59Z" fill="#000000" stroke="#000000" stroke-width="3.8" stroke-linejoin="round"/><path d="M488.04 589.81L489.95 595.68L496.12 595.68L491.13 599.31L493.04 605.19L488.04 601.56L483.04 605.19L484.95 599.31L479.96 595.68L486.13 595.68Z" fill="#000000" stroke="#000000" stroke-width="3.8" stroke-linejoin="round"/><path d="M546.16 595.51L548.07 601.38L554.24 601.38L549.25 605.01L551.16 610.89L546.16 607.26L541.16 610.89L543.07 605.01L538.08 601.38L544.25 601.38Z" fill="#000000" stroke="#000000" stroke-width="3.8" stroke-linejoin="round"/><path d="M604.28 610.62L606.19 616.5L612.36 616.5L607.37 620.13L609.28 626L604.28 622.37L599.28 626L601.19 620.13L596.2 616.5L602.37 616.5Z" fill="#000000" stroke="#000000" stroke-width="3.8" stroke-linejoin="round"/><path d="M662.4 632.92L664.31 638.8L670.48 638.8L665.49 642.43L667.4 648.3L662.4 644.67L657.4 648.3L659.31 642.43L654.32 638.8L660.49 638.8Z" fill="#000000" stroke="#000000" stroke-width="3.8" stroke-linejoin="round"/><path d="M720.52 632.18L722.43 638.05L728.6 638.05L723.61 641.68L725.52 647.56L720.52 643.93L715.52 647.56L717.43 641.68L712.44 638.05L718.61 638.05Z" fill="#000000" stroke="#000000" stroke-width="3.8" stroke-linejoin="round"/><path d="M778.64 646.55L780.55 652.43L786.72 652.43L781.73 656.06L783.64 661.93L778.64 658.3L773.64 661.93L775.55 656.06L770.56 652.43L776.73 652.43Z" fill="#000000" stroke="#000000" stroke-width="3.8" stroke-linejoin="round"/><path d="M836.76 648.78L838.67 654.66L844.84 654.66L839.85 658.29L841.76 664.16L836.76 660.53L831.76 664.16L833.67 658.29L828.68 654.66L834.85 654.66Z" fill="#000000" stroke="#000000" stroke-width="3.8" stroke-linejoin="round"/><path d="M894.88 607.4L896.79 613.28L902.96 613.28L897.97 616.91L899.88 622.78L894.88 619.15L889.88 622.78L891.79 616.91L886.8 613.28L892.97 613.28Z" fill="#000000" stroke="#000000" stroke-width="3.8" stroke-linejoin="round"/><path d="M953 556.86L954.91 562.73L961.08 562.73L956.09 566.36L958 572.23L953 568.6L948 572.23L949.91 566.36L944.92 562.73L951.09 562.73Z" fill="#000000" stroke="#000000" stroke-width="3.8" stroke-linejoin="round"/><path d="M1011.12 524.89L1013.03 530.77L1019.2 530.77L1014.21 534.4L1016.12 540.27L1011.12 536.64L1006.12 540.27L1008.03 534.4L1003.04 530.77L1009.21 530.77Z" fill="#000000" stroke="#000000" stroke-width="3.8" stroke-linejoin="round"/><path d="M1069.24 479.3L1071.15 485.17L1077.32 485.17L1072.33 488.8L1074.24 494.68L1069.24 491.05L1064.24 494.68L1066.15 488.8L1061.16 485.17L1067.33 485.17Z" fill="#000000" stroke="#000000" stroke-width="3.8" stroke-linejoin="round"/><path d="M1127.36 454.03L1129.27 459.9L1135.44 459.9L1130.45 463.53L1132.36 469.4L1127.36 465.77L1122.36 469.4L1124.27 463.53L1119.28 459.9L1125.45 459.9Z" fill="#000000" stroke="#000000" stroke-width="3.8" stroke-linejoin="round"/><path d="M1185.48 413.14L1187.39 419.02L1193.56 419.02L1188.57 422.65L1190.48 428.52L1185.48 424.89L1180.48 428.52L1182.39 422.65L1177.4 419.02L1183.57 419.02Z" fill="#000000" stroke="#000000" stroke-width="3.8" stroke-linejoin="round"/><path d="M1243.6 384.9L1245.51 390.77L1251.68 390.77L1246.69 394.4L1248.6 400.27L1243.6 396.64L1238.6 400.27L1240.51 394.4L1235.52 390.77L1241.69 390.77Z" fill="#000000" stroke="#000000" stroke-width="3.8" stroke-linejoin="round"/><path d="M1301.72 331.13L1303.63 337L1309.8 337L1304.81 340.63L1306.72 346.51L1301.72 342.88L1296.72 346.51L1298.63 340.63L1293.64 337L1299.81 337Z" fill="#000000" stroke="#000000" stroke-width="3.8" stroke-linejoin="round"/><path d="M1359.84 305.61L1361.75 311.48L1367.92 311.48L1362.93 315.11L1364.84 320.98L1359.84 317.35L1354.84 320.98L1356.75 315.11L1351.76 311.48L1357.93 311.48Z" fill="#000000" stroke="#000000" stroke-width="3.8" stroke-linejoin="round"/><path d="M1417.96 119.28L1419.87 125.15L1426.04 125.15L1421.05 128.78L1422.96 134.65L1417.96 131.02L1412.96 134.65L1414.87 128.78L1409.88 125.15L1416.05 125.15Z" fill="#000000" stroke="#000000" stroke-width="3.8" stroke-linejoin="round"/><path d="M1476.08 90.04L1477.99 95.91L1484.16 95.91L1479.17 99.54L1481.08 105.42L1476.08 101.79L1471.08 105.42L1472.99 99.54L1468 95.91L1474.17 95.91Z" fill="#000000" stroke="#000000" stroke-width="3.8" stroke-linejoin="round"/><path d="M1534.2 54.11L1536.11 59.98L1542.28 59.98L1537.29 63.61L1539.2 69.49L1534.2 65.86L1529.2 69.49L1531.11 63.61L1526.12 59.98L1532.29 59.98Z" fill="#000000" stroke="#000000" stroke-width="3.8" stroke-linejoin="round"/></g>
<g stroke="#000" fill="none"><path d="M192.5 28.2V747.6H1599" stroke-width="2.8" stroke-linecap="butt" stroke-linejoin="miter"/><path d="M371.8 747.6v12M662.4 747.6v12M953 747.6v12M1243.6 747.6v12M1534.2 747.6v12M192.5 716.75h-12M192.5 592.86h-12M192.5 468.97h-12M192.5 345.08h-12M192.5 221.19h-12M192.5 97.3h-12" stroke-width="2.5"/></g>
<g class="tk"><text x="371.8" y="798.83" text-anchor="middle">80</text><text x="662.4" y="798.83" text-anchor="middle">85</text><text x="953" y="798.83" text-anchor="middle">90</text><text x="1243.6" y="798.83" text-anchor="middle">95</text><text x="1534.2" y="798.83" text-anchor="middle">100</text><text x="169.4" y="731.45" text-anchor="end">4.20</text><text x="169.4" y="607.56" text-anchor="end">4.25</text><text x="169.4" y="483.67" text-anchor="end">4.30</text><text x="169.4" y="359.78" text-anchor="end">4.35</text><text x="169.4" y="235.89" text-anchor="end">4.40</text><text x="169.4" y="112" text-anchor="end">4.45</text></g>
<text class="al" x="895.2" y="852.03" text-anchor="middle">Mass Number (A)</text>
<text class="al" transform="translate(61.8 389.05) rotate(-90)" text-anchor="middle" style="font-size:41.4px">Charge Radius (fm)</text>
<g><path d="M226.5 79.4L302.8 79.4" fill="none" stroke="#0173B2" stroke-width="6.4" stroke-linecap="square"/><circle cx="265" cy="79.4" r="10.9" fill="#0173B2"/><text x="333" y="92.7" class="lg">BSkG3 HFB (BRUSLIB)</text><path d="M226.5 135.5L302.8 135.5" fill="none" stroke="#D68307" stroke-width="5.5" stroke-linecap="butt" stroke-dasharray="21.46 9.28"/><rect x="254" y="124.5" width="22" height="22" fill="#D68307"/><text x="333" y="148.8" class="lg">PC-X</text><path d="M226.5 191.6L302.8 191.6" fill="none" stroke="#B01218" stroke-width="6.9" stroke-linecap="square"/><path d="M260.4 179.9L265 184.8L269.6 179.9L276.7 187L271.8 191.6L276.7 196.2L269.6 203.3L265 198.4L260.4 203.3L253.3 196.2L258.2 191.6L253.3 187Z" fill="#B01218"/><text x="333" y="204.9" class="lg">CatBoost (this work)</text><path d="M226.5 247.7L302.8 247.7" fill="none" stroke="#000000" stroke-width="5.5" stroke-linecap="butt" stroke-dasharray="5.8 9.57"/><path d="M265 239.2L266.91 245.07L273.08 245.07L268.09 248.7L270 254.58L265 250.95L260 254.58L261.91 248.7L256.92 245.07L263.09 245.07Z" fill="#000000" stroke="#000000" stroke-width="3.8" stroke-linejoin="round"/><text x="333" y="261" class="lg">Experimental data</text></g>
</g>
<text class="cap" transform="translate(0 2019.7) scale(1.0400 1)"><tspan x="1983.77" font-size="83.4" textLength="23.38" lengthAdjust="spacingAndGlyphs">(</tspan><tspan x="2008.48" font-size="74.5" textLength="41.38" lengthAdjust="spacingAndGlyphs">d</tspan><tspan x="2051.4" font-size="83.4" textLength="23.75" lengthAdjust="spacingAndGlyphs">)</tspan> <tspan x="2103.58" font-size="74.5" letter-spacing="1.832">BSkG3</tspan> <tspan x="2353.77" font-size="74.5" letter-spacing="4.654">HFB</tspan> <tspan x="2536.57" font-size="83.4" textLength="24" lengthAdjust="spacingAndGlyphs">(</tspan><tspan x="2562.23" font-size="74.5" letter-spacing="1.785">BRUSLIB</tspan><tspan x="2888.09" font-size="83.4" textLength="24.12" lengthAdjust="spacingAndGlyphs">)</tspan></text>
</svg>
</body>
</html>
